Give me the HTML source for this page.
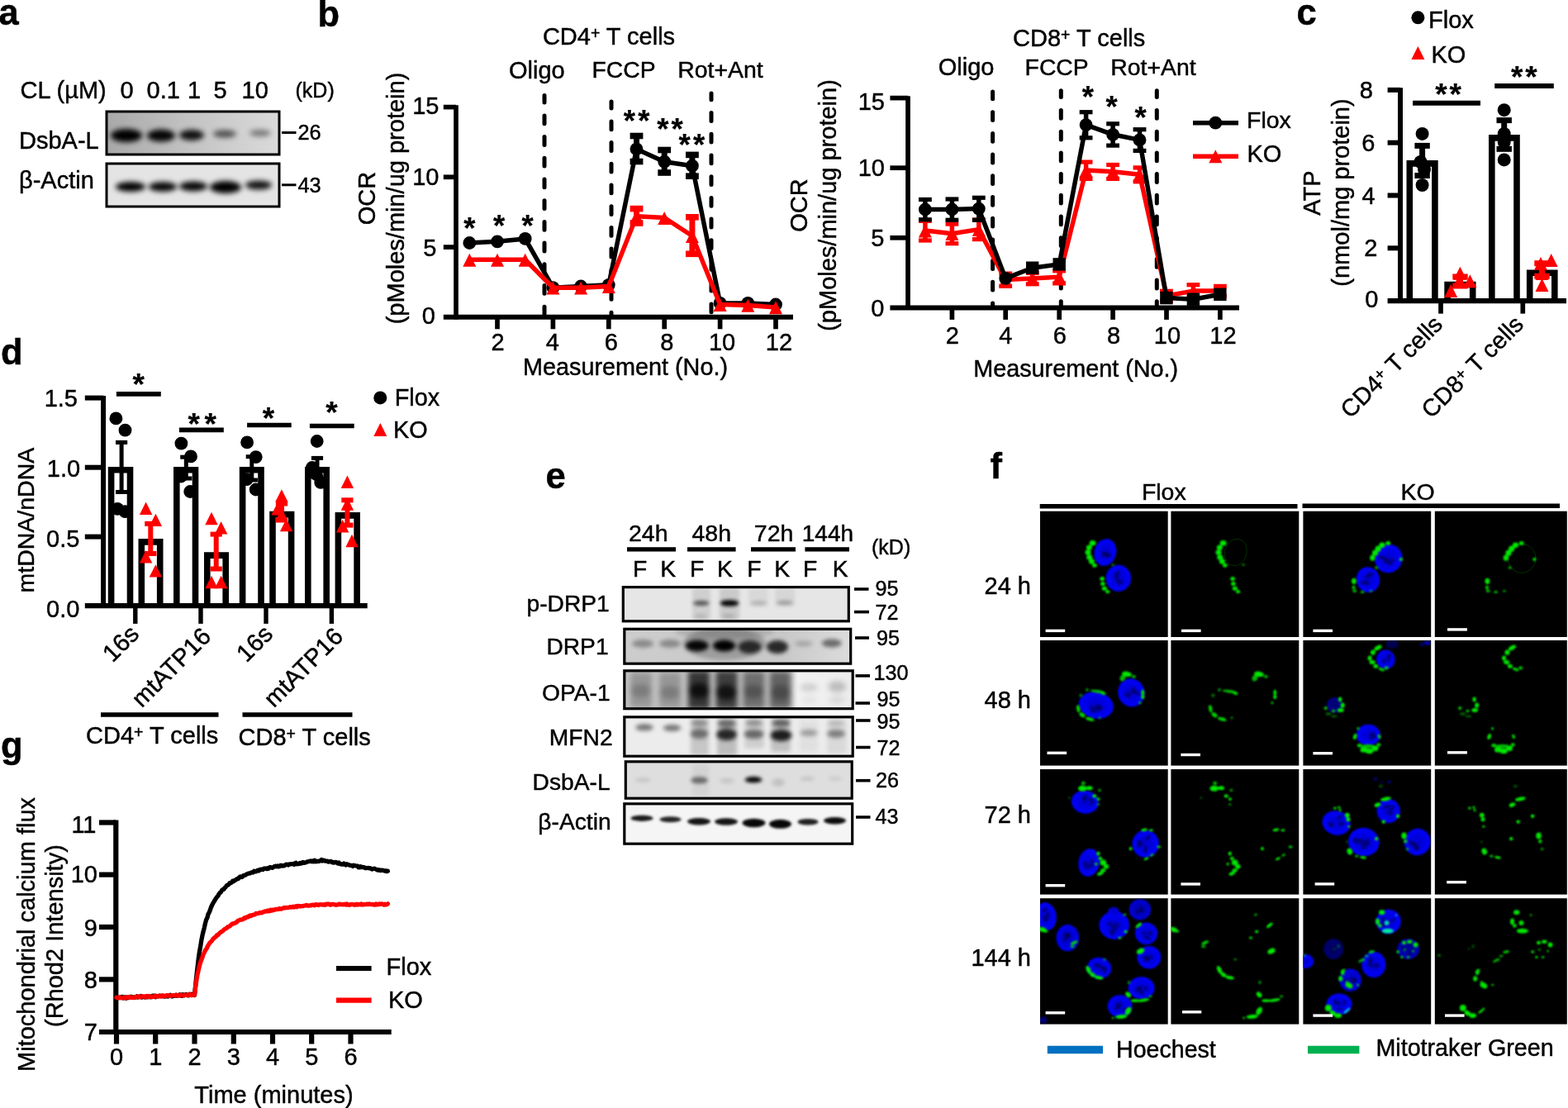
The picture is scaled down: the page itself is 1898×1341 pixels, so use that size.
<!DOCTYPE html>
<html lang="en"><head><meta charset="utf-8"><title>Figure</title>
<style>
html,body{margin:0;padding:0;background:#fff;}
body{width:1898px;height:1341px;overflow:hidden;}
svg{display:block;}
text{font-family:"Liberation Sans",sans-serif;fill:#000;stroke:#000;stroke-width:0.45px;}
</style></head><body>
<svg width="1898" height="1341" viewBox="0 0 1898 1341">
<defs><filter id="b1" x="-50%" y="-50%" width="200%" height="200%"><feGaussianBlur stdDeviation="1"/></filter><filter id="b2" x="-50%" y="-50%" width="200%" height="200%"><feGaussianBlur stdDeviation="2"/></filter><filter id="b3" x="-50%" y="-50%" width="200%" height="200%"><feGaussianBlur stdDeviation="3"/></filter><filter id="b4" x="-50%" y="-50%" width="200%" height="200%"><feGaussianBlur stdDeviation="4"/></filter><filter id="g1" x="-50%" y="-50%" width="200%" height="200%"><feGaussianBlur stdDeviation="1.1"/></filter><filter id="bl1_8" x="-50%" y="-50%" width="200%" height="200%"><feGaussianBlur stdDeviation="1.8"/></filter><filter id="bl2" x="-50%" y="-50%" width="200%" height="200%"><feGaussianBlur stdDeviation="2"/></filter><filter id="bl2_5" x="-50%" y="-50%" width="200%" height="200%"><feGaussianBlur stdDeviation="2.5"/></filter><filter id="bl3" x="-50%" y="-50%" width="200%" height="200%"><feGaussianBlur stdDeviation="3"/></filter><radialGradient id="bg"><stop offset="0" stop-color="#0000c8"/><stop offset="0.6" stop-color="#0000e6"/><stop offset="1" stop-color="#0000ff"/></radialGradient></defs>
<text x="-1.5" y="30.3" font-size="43.5" font-weight="bold">a</text>
<text x="24.5" y="119.0" font-size="29">CL (µM)</text>
<text x="145.4" y="119.0" font-size="29">0</text>
<text x="177.5" y="119.0" font-size="29">0.1</text>
<text x="227.1" y="119.0" font-size="29">1</text>
<text x="258.4" y="119.0" font-size="29">5</text>
<text x="292.5" y="119.0" font-size="29">10</text>
<text x="357.5" y="118.0" font-size="25">(kD)</text>
<text x="23.0" y="180.0" font-size="29">DsbA-L</text>
<text x="23.0" y="227.5" font-size="29">β-Actin</text>
<linearGradient id="ga1" x1="0" x2="1" y1="0" y2="0"><stop offset="0" stop-color="#a8a8a8"/><stop offset="0.5" stop-color="#c4c4c4"/><stop offset="1" stop-color="#dadada"/></linearGradient>
<g>
<clipPath id="c129_135"><rect x="129" y="135" width="209" height="52"/></clipPath>
<rect x="129.0" y="135.0" width="209.0" height="52.0" fill="url(#ga1)"/>
<g clip-path="url(#c129_135)" filter="url(#b3)">
<ellipse cx="153.0" cy="164.0" rx="19.0" ry="8.0" fill="#000" opacity="1.0"/>
<ellipse cx="195.0" cy="164.0" rx="17.0" ry="7.5" fill="#000" opacity="0.97"/>
<ellipse cx="232.0" cy="163.5" rx="15.0" ry="6.5" fill="#000" opacity="0.92"/>
<ellipse cx="272.0" cy="162.0" rx="14.0" ry="4.5" fill="#000" opacity="0.62"/>
<ellipse cx="315.0" cy="161.0" rx="13.0" ry="4.0" fill="#000" opacity="0.45"/>
</g>
<rect x="129.0" y="135.0" width="209.0" height="52.0" fill="none" stroke="#000" stroke-width="3"/>
</g>
<g>
<clipPath id="c129_198"><rect x="129" y="198" width="209" height="52"/></clipPath>
<rect x="129.0" y="198.0" width="209.0" height="52.0" fill="#e4e4e4"/>
<g clip-path="url(#c129_198)" filter="url(#b3)">
<ellipse cx="158.0" cy="226.0" rx="18.0" ry="6.0" fill="#000" opacity="1.0"/>
<ellipse cx="197.0" cy="226.0" rx="17.0" ry="6.0" fill="#000" opacity="0.97"/>
<ellipse cx="234.0" cy="225.5" rx="17.0" ry="6.0" fill="#000" opacity="0.97"/>
<ellipse cx="273.0" cy="226.5" rx="19.0" ry="7.5" fill="#000" opacity="1.0"/>
<ellipse cx="313.0" cy="224.0" rx="16.0" ry="5.5" fill="#000" opacity="0.92"/>
</g>
<rect x="129.0" y="198.0" width="209.0" height="52.0" fill="none" stroke="#000" stroke-width="3"/>
</g>
<line x1="341.0" y1="160.5" x2="358.5" y2="160.5" stroke="#000" stroke-width="3"/>
<text x="360.5" y="169.0" font-size="25.3">26</text>
<line x1="341.0" y1="223.8" x2="358.5" y2="223.8" stroke="#000" stroke-width="3"/>
<text x="360.5" y="232.5" font-size="25.3">43</text>
<text x="384.5" y="31.5" font-size="43.5" font-weight="bold">b</text>
<text x="737.0" y="54.0" font-size="29" text-anchor="middle">CD4<tspan dy="-7" font-size="19.5">+</tspan><tspan dy="7"> </tspan>T cells</text>
<text x="616.0" y="95.0" font-size="29">Oligo</text>
<text x="716.5" y="94.0" font-size="28.3">FCCP</text>
<text x="820.3" y="94.0" font-size="28.4">Rot+Ant</text>
<line x1="659.0" y1="115.5" x2="659.0" y2="380.8" stroke="#000" stroke-width="5" stroke-dasharray="9.8 15.9" stroke-dashoffset="1.3" stroke-linecap="round"/>
<line x1="740.0" y1="123.1" x2="740.0" y2="380.8" stroke="#000" stroke-width="5" stroke-dasharray="9.8 15.9" stroke-dashoffset="1.9" stroke-linecap="round"/>
<line x1="861.0" y1="113.0" x2="861.0" y2="380.8" stroke="#000" stroke-width="5" stroke-dasharray="9.8 15.9" stroke-dashoffset="2.1" stroke-linecap="round"/>
<line x1="770.5" y1="161.7" x2="770.5" y2="198.3" stroke="#000" stroke-width="7"/>
<rect x="762.6" y="160.7" width="15.8" height="7.6" fill="#000"/>
<rect x="762.6" y="191.7" width="15.8" height="7.6" fill="#000"/>
<line x1="804.2" y1="178.7" x2="804.2" y2="211.8" stroke="#000" stroke-width="7"/>
<rect x="796.3" y="177.7" width="15.8" height="7.6" fill="#000"/>
<rect x="796.3" y="205.2" width="15.8" height="7.6" fill="#000"/>
<line x1="837.9" y1="184.6" x2="837.9" y2="216.0" stroke="#000" stroke-width="7"/>
<rect x="830.0" y="183.6" width="15.8" height="7.6" fill="#000"/>
<rect x="830.0" y="209.4" width="15.8" height="7.6" fill="#000"/>
<polyline points="568.3,294.0 602.0,292.3 635.7,288.9 669.4,348.2 703.1,346.5 736.8,344.8 770.5,180.4 804.2,195.7 837.9,200.7 871.6,366.9 905.3,366.9 939.0,368.5" fill="none" stroke="#000" stroke-width="5.5" stroke-linejoin="round"/>
<circle cx="568.3" cy="294.0" r="7.9" fill="#000"/>
<circle cx="602.0" cy="292.3" r="7.9" fill="#000"/>
<circle cx="635.7" cy="288.9" r="7.9" fill="#000"/>
<circle cx="669.4" cy="348.2" r="7.9" fill="#000"/>
<circle cx="703.1" cy="346.5" r="7.9" fill="#000"/>
<circle cx="736.8" cy="344.8" r="7.9" fill="#000"/>
<circle cx="770.5" cy="180.4" r="7.9" fill="#000"/>
<circle cx="804.2" cy="195.7" r="7.9" fill="#000"/>
<circle cx="837.9" cy="200.7" r="7.9" fill="#000"/>
<circle cx="871.6" cy="366.9" r="7.9" fill="#000"/>
<circle cx="905.3" cy="366.9" r="7.9" fill="#000"/>
<circle cx="939.0" cy="368.5" r="7.9" fill="#000"/>
<line x1="770.5" y1="249.8" x2="770.5" y2="272.8" stroke="#f00" stroke-width="7"/>
<rect x="762.6" y="248.8" width="15.8" height="7.6" fill="#f00"/>
<rect x="762.6" y="266.2" width="15.8" height="7.6" fill="#f00"/>
<line x1="837.9" y1="260.0" x2="837.9" y2="310.1" stroke="#f00" stroke-width="7"/>
<rect x="830.0" y="259.0" width="15.8" height="7.6" fill="#f00"/>
<rect x="830.0" y="303.5" width="15.8" height="7.6" fill="#f00"/>
<polyline points="568.3,314.3 602.0,314.3 635.7,314.3 669.4,348.2 703.1,348.2 736.8,346.5 770.5,261.8 804.2,263.5 837.9,285.5 871.6,368.5 905.3,369.4 939.0,371.9" fill="none" stroke="#f00" stroke-width="5.5" stroke-linejoin="round"/>
<polygon points="568.3,306.7 560.3,322.7 576.3,322.7" fill="#f00"/>
<polygon points="602.0,306.7 594.0,322.7 610.0,322.7" fill="#f00"/>
<polygon points="635.7,306.7 627.7,322.7 643.7,322.7" fill="#f00"/>
<polygon points="669.4,340.6 661.4,356.6 677.4,356.6" fill="#f00"/>
<polygon points="703.1,340.6 695.1,356.6 711.1,356.6" fill="#f00"/>
<polygon points="736.8,338.9 728.8,354.9 744.8,354.9" fill="#f00"/>
<polygon points="770.5,254.2 762.5,270.2 778.5,270.2" fill="#f00"/>
<polygon points="804.2,255.9 796.2,271.9 812.2,271.9" fill="#f00"/>
<polygon points="837.9,277.9 829.9,293.9 845.9,293.9" fill="#f00"/>
<polygon points="871.6,360.9 863.6,376.9 879.6,376.9" fill="#f00"/>
<polygon points="905.3,361.8 897.3,377.8 913.3,377.8" fill="#f00"/>
<polygon points="939.0,364.3 931.0,380.3 947.0,380.3" fill="#f00"/>
<line x1="552.0" y1="127.2" x2="552.0" y2="386.5" stroke="#000" stroke-width="5.7"/>
<line x1="536.8" y1="383.8" x2="960.0" y2="383.8" stroke="#000" stroke-width="6"/>
<text x="527.0" y="392.3" font-size="29" text-anchor="end">0</text>
<line x1="536.8" y1="299.1" x2="552.0" y2="299.1" stroke="#000" stroke-width="5.7"/>
<text x="528.5" y="309.9" font-size="29" text-anchor="end">5</text>
<line x1="536.8" y1="214.3" x2="552.0" y2="214.3" stroke="#000" stroke-width="5.7"/>
<text x="531.5" y="224.1" font-size="29" text-anchor="end">10</text>
<line x1="536.8" y1="129.6" x2="552.0" y2="129.6" stroke="#000" stroke-width="5.7"/>
<text x="531.5" y="138.4" font-size="29" text-anchor="end">15</text>
<line x1="602.0" y1="383.8" x2="602.0" y2="398.3" stroke="#000" stroke-width="5.7"/>
<text x="602.5" y="424.0" font-size="29" text-anchor="middle">2</text>
<line x1="669.4" y1="383.8" x2="669.4" y2="398.3" stroke="#000" stroke-width="5.7"/>
<text x="668.9" y="424.0" font-size="29" text-anchor="middle">4</text>
<line x1="736.8" y1="383.8" x2="736.8" y2="398.3" stroke="#000" stroke-width="5.7"/>
<text x="739.8" y="424.0" font-size="29" text-anchor="middle">6</text>
<line x1="804.2" y1="383.8" x2="804.2" y2="398.3" stroke="#000" stroke-width="5.7"/>
<text x="807.2" y="424.0" font-size="29" text-anchor="middle">8</text>
<line x1="871.6" y1="383.8" x2="871.6" y2="398.3" stroke="#000" stroke-width="5.7"/>
<text x="874.1" y="424.0" font-size="29" text-anchor="middle">10</text>
<line x1="939.0" y1="383.8" x2="939.0" y2="398.3" stroke="#000" stroke-width="5.7"/>
<text x="943.0" y="424.0" font-size="29" text-anchor="middle">12</text>
<text x="757.0" y="454.0" font-size="28.8" text-anchor="middle">Measurement (No.)</text>
<text font-size="29" text-anchor="middle" transform="translate(454.2 240.0) rotate(-90)">OCR</text>
<text font-size="29" text-anchor="middle" transform="translate(488.5 240.0) rotate(-90)">(pMoles/min/ug protein)</text>
<text x="561.3" y="289.3" font-size="36.5" font-weight="bold" style="stroke-width:0.2px">*</text>
<text x="597.1" y="285.6" font-size="36.5" font-weight="bold" style="stroke-width:0.2px">*</text>
<text x="631.6" y="285.6" font-size="36.5" font-weight="bold" style="stroke-width:0.2px">*</text>
<text x="754.8" y="159.0" font-size="36.5" font-weight="bold" letter-spacing="3.2" style="stroke-width:0.2px">**</text>
<text x="795.2" y="169.0" font-size="36.5" font-weight="bold" letter-spacing="3.2" style="stroke-width:0.2px">**</text>
<text x="821.6" y="188.3" font-size="36.5" font-weight="bold" letter-spacing="3.2" style="stroke-width:0.2px">**</text>
<text x="1306.2" y="56.2" font-size="29" text-anchor="middle">CD8<tspan dy="-7" font-size="19.5">+</tspan><tspan dy="7"> </tspan>T cells</text>
<text x="1135.7" y="90.7" font-size="29">Oligo</text>
<text x="1240.6" y="90.7" font-size="28.3">FCCP</text>
<text x="1344.3" y="90.7" font-size="28.4">Rot+Ant</text>
<line x1="1201.6" y1="111.0" x2="1201.6" y2="369.4" stroke="#000" stroke-width="5" stroke-dasharray="9.8 15.9" stroke-dashoffset="1" stroke-linecap="round"/>
<line x1="1284.3" y1="109.8" x2="1284.3" y2="369.4" stroke="#000" stroke-width="5" stroke-dasharray="9.8 15.9" stroke-dashoffset="2" stroke-linecap="round"/>
<line x1="1400.3" y1="109.8" x2="1400.3" y2="369.4" stroke="#000" stroke-width="5" stroke-dasharray="9.8 15.9" stroke-dashoffset="2" stroke-linecap="round"/>
<line x1="1119.9" y1="265.8" x2="1119.9" y2="292.6" stroke="#f00" stroke-width="5.5"/>
<rect x="1112.0" y="264.8" width="15.8" height="5.2" fill="#f00"/>
<rect x="1112.0" y="288.4" width="15.8" height="5.2" fill="#f00"/>
<line x1="1152.4" y1="269.5" x2="1152.4" y2="296.3" stroke="#f00" stroke-width="5.5"/>
<rect x="1144.5" y="268.5" width="15.8" height="5.2" fill="#f00"/>
<rect x="1144.5" y="292.1" width="15.8" height="5.2" fill="#f00"/>
<line x1="1184.8" y1="264.4" x2="1184.8" y2="291.2" stroke="#f00" stroke-width="5.5"/>
<rect x="1176.9" y="263.4" width="15.8" height="5.2" fill="#f00"/>
<rect x="1176.9" y="287.0" width="15.8" height="5.2" fill="#f00"/>
<line x1="1217.2" y1="329.5" x2="1217.2" y2="347.9" stroke="#f00" stroke-width="5.5"/>
<rect x="1209.3" y="328.5" width="15.8" height="5.2" fill="#f00"/>
<rect x="1209.3" y="343.7" width="15.8" height="5.2" fill="#f00"/>
<line x1="1249.7" y1="328.7" x2="1249.7" y2="345.4" stroke="#f00" stroke-width="5.5"/>
<rect x="1241.8" y="327.7" width="15.8" height="5.2" fill="#f00"/>
<rect x="1241.8" y="341.2" width="15.8" height="5.2" fill="#f00"/>
<line x1="1282.2" y1="326.2" x2="1282.2" y2="344.5" stroke="#f00" stroke-width="5.5"/>
<rect x="1274.2" y="325.2" width="15.8" height="5.2" fill="#f00"/>
<rect x="1274.2" y="340.3" width="15.8" height="5.2" fill="#f00"/>
<line x1="1314.6" y1="194.5" x2="1314.6" y2="218.0" stroke="#f00" stroke-width="5.5"/>
<rect x="1306.7" y="193.5" width="15.8" height="5.2" fill="#f00"/>
<rect x="1306.7" y="213.8" width="15.8" height="5.2" fill="#f00"/>
<line x1="1347.1" y1="197.9" x2="1347.1" y2="218.0" stroke="#f00" stroke-width="5.5"/>
<rect x="1339.2" y="196.9" width="15.8" height="5.2" fill="#f00"/>
<rect x="1339.2" y="213.8" width="15.8" height="5.2" fill="#f00"/>
<line x1="1379.5" y1="201.3" x2="1379.5" y2="221.4" stroke="#f00" stroke-width="5.5"/>
<rect x="1371.6" y="200.3" width="15.8" height="5.2" fill="#f00"/>
<rect x="1371.6" y="217.2" width="15.8" height="5.2" fill="#f00"/>
<line x1="1412.0" y1="350.7" x2="1412.0" y2="365.7" stroke="#f00" stroke-width="5.5"/>
<rect x="1404.0" y="349.7" width="15.8" height="5.2" fill="#f00"/>
<rect x="1404.0" y="361.5" width="15.8" height="5.2" fill="#f00"/>
<line x1="1444.4" y1="343.1" x2="1444.4" y2="361.5" stroke="#f00" stroke-width="5.5"/>
<rect x="1436.5" y="342.1" width="15.8" height="5.2" fill="#f00"/>
<rect x="1436.5" y="357.3" width="15.8" height="5.2" fill="#f00"/>
<line x1="1476.9" y1="344.8" x2="1476.9" y2="359.8" stroke="#f00" stroke-width="5.5"/>
<rect x="1469.0" y="343.8" width="15.8" height="5.2" fill="#f00"/>
<rect x="1469.0" y="355.6" width="15.8" height="5.2" fill="#f00"/>
<polyline points="1119.9,279.0 1152.4,282.7 1184.8,277.6 1217.2,338.6 1249.7,336.9 1282.2,335.2 1314.6,206.1 1347.1,207.8 1379.5,211.2 1412.0,358.0 1444.4,352.1 1476.9,352.1" fill="none" stroke="#f00" stroke-width="5.5" stroke-linejoin="round"/>
<polygon points="1119.9,271.4 1111.9,287.4 1127.9,287.4" fill="#f00"/>
<polygon points="1152.4,275.1 1144.4,291.1 1160.4,291.1" fill="#f00"/>
<polygon points="1184.8,270.0 1176.8,286.0 1192.8,286.0" fill="#f00"/>
<polygon points="1217.2,331.0 1209.2,347.0 1225.2,347.0" fill="#f00"/>
<polygon points="1249.7,329.3 1241.7,345.3 1257.7,345.3" fill="#f00"/>
<polygon points="1282.2,327.6 1274.2,343.6 1290.2,343.6" fill="#f00"/>
<polygon points="1314.6,198.5 1306.6,214.5 1322.6,214.5" fill="#f00"/>
<polygon points="1347.1,200.2 1339.1,216.2 1355.1,216.2" fill="#f00"/>
<polygon points="1379.5,203.6 1371.5,219.6 1387.5,219.6" fill="#f00"/>
<polygon points="1412.0,350.4 1404.0,366.4 1420.0,366.4" fill="#f00"/>
<polygon points="1444.4,344.5 1436.4,360.5 1452.4,360.5" fill="#f00"/>
<polygon points="1476.9,344.5 1468.9,360.5 1484.9,360.5" fill="#f00"/>
<line x1="1119.9" y1="239.9" x2="1119.9" y2="267.4" stroke="#000" stroke-width="5.5"/>
<rect x="1112.0" y="238.9" width="15.8" height="5.2" fill="#000"/>
<rect x="1112.0" y="263.2" width="15.8" height="5.2" fill="#000"/>
<line x1="1152.4" y1="239.4" x2="1152.4" y2="267.9" stroke="#000" stroke-width="5.5"/>
<rect x="1144.5" y="238.4" width="15.8" height="5.2" fill="#000"/>
<rect x="1144.5" y="263.7" width="15.8" height="5.2" fill="#000"/>
<line x1="1184.8" y1="237.7" x2="1184.8" y2="267.9" stroke="#000" stroke-width="5.5"/>
<rect x="1176.9" y="236.7" width="15.8" height="5.2" fill="#000"/>
<rect x="1176.9" y="263.7" width="15.8" height="5.2" fill="#000"/>
<line x1="1314.6" y1="134.1" x2="1314.6" y2="168.4" stroke="#000" stroke-width="5.5"/>
<rect x="1306.7" y="133.1" width="15.8" height="5.2" fill="#000"/>
<rect x="1306.7" y="164.2" width="15.8" height="5.2" fill="#000"/>
<line x1="1347.1" y1="148.2" x2="1347.1" y2="177.7" stroke="#000" stroke-width="5.5"/>
<rect x="1339.2" y="147.2" width="15.8" height="5.2" fill="#000"/>
<rect x="1339.2" y="173.5" width="15.8" height="5.2" fill="#000"/>
<line x1="1379.5" y1="155.1" x2="1379.5" y2="184.0" stroke="#000" stroke-width="5.5"/>
<rect x="1371.6" y="154.1" width="15.8" height="5.2" fill="#000"/>
<rect x="1371.6" y="179.8" width="15.8" height="5.2" fill="#000"/>
<polyline points="1119.9,253.5 1152.4,253.5 1184.8,252.6 1217.2,336.9 1249.7,324.2 1282.2,319.9 1314.6,151.1 1347.1,162.8 1379.5,169.4 1412.0,360.6 1444.4,362.2 1476.9,356.3" fill="none" stroke="#000" stroke-width="5.5" stroke-linejoin="round"/>
<circle cx="1119.9" cy="253.5" r="7.9" fill="#000"/>
<circle cx="1152.4" cy="253.5" r="7.9" fill="#000"/>
<circle cx="1184.8" cy="252.6" r="7.9" fill="#000"/>
<circle cx="1217.2" cy="336.9" r="7.9" fill="#000"/>
<rect x="1242.0" y="316.5" width="15.4" height="15.4" fill="#000"/>
<rect x="1274.5" y="312.2" width="15.4" height="15.4" fill="#000"/>
<circle cx="1314.6" cy="151.1" r="7.9" fill="#000"/>
<circle cx="1347.1" cy="162.8" r="7.9" fill="#000"/>
<circle cx="1379.5" cy="169.4" r="7.9" fill="#000"/>
<rect x="1404.2" y="352.9" width="15.4" height="15.4" fill="#000"/>
<rect x="1436.7" y="354.5" width="15.4" height="15.4" fill="#000"/>
<rect x="1469.2" y="348.6" width="15.4" height="15.4" fill="#000"/>
<line x1="1099.0" y1="116.2" x2="1099.0" y2="375.1" stroke="#000" stroke-width="5.7"/>
<line x1="1077.4" y1="372.4" x2="1500.0" y2="372.4" stroke="#000" stroke-width="6"/>
<text x="1070.5" y="382.7" font-size="29" text-anchor="end">0</text>
<line x1="1077.4" y1="287.8" x2="1099.0" y2="287.8" stroke="#000" stroke-width="5.7"/>
<text x="1070.5" y="298.1" font-size="29" text-anchor="end">5</text>
<line x1="1077.4" y1="203.2" x2="1099.0" y2="203.2" stroke="#000" stroke-width="5.7"/>
<text x="1071.0" y="212.7" font-size="29" text-anchor="end">10</text>
<line x1="1077.4" y1="118.6" x2="1099.0" y2="118.6" stroke="#000" stroke-width="5.7"/>
<text x="1071.0" y="132.9" font-size="29" text-anchor="end">15</text>
<line x1="1152.4" y1="372.4" x2="1152.4" y2="386.9" stroke="#000" stroke-width="5.7"/>
<text x="1152.9" y="416.0" font-size="29" text-anchor="middle">2</text>
<line x1="1217.2" y1="372.4" x2="1217.2" y2="386.9" stroke="#000" stroke-width="5.7"/>
<text x="1217.2" y="416.0" font-size="29" text-anchor="middle">4</text>
<line x1="1282.2" y1="372.4" x2="1282.2" y2="386.9" stroke="#000" stroke-width="5.7"/>
<text x="1282.7" y="416.0" font-size="29" text-anchor="middle">6</text>
<line x1="1347.1" y1="372.4" x2="1347.1" y2="386.9" stroke="#000" stroke-width="5.7"/>
<text x="1348.1" y="416.0" font-size="29" text-anchor="middle">8</text>
<line x1="1412.0" y1="372.4" x2="1412.0" y2="386.9" stroke="#000" stroke-width="5.7"/>
<text x="1413.0" y="416.0" font-size="29" text-anchor="middle">10</text>
<line x1="1476.9" y1="372.4" x2="1476.9" y2="386.9" stroke="#000" stroke-width="5.7"/>
<text x="1480.4" y="416.0" font-size="29" text-anchor="middle">12</text>
<text x="1302.2" y="455.5" font-size="28.8" text-anchor="middle">Measurement (No.)</text>
<text font-size="29" text-anchor="middle" transform="translate(977.0 248.5) rotate(-90)">OCR</text>
<text font-size="29" text-anchor="middle" transform="translate(1011.5 248.5) rotate(-90)">(pMoles/min/ug protein)</text>
<text x="1309.7" y="129.6" font-size="36.5" font-weight="bold" style="stroke-width:0.2px">*</text>
<text x="1338.4" y="142.3" font-size="36.5" font-weight="bold" style="stroke-width:0.2px">*</text>
<text x="1373.4" y="155.3" font-size="36.5" font-weight="bold" style="stroke-width:0.2px">*</text>
<line x1="1444.0" y1="148.7" x2="1499.0" y2="148.7" stroke="#000" stroke-width="5.5"/>
<circle cx="1471.3" cy="148.7" r="7.9" fill="#000"/>
<text x="1509.0" y="155.0" font-size="28.5">Flox</text>
<line x1="1444.0" y1="189.2" x2="1499.0" y2="189.2" stroke="#f00" stroke-width="5.5"/>
<polygon points="1471.3,181.2 1463.3,197.2 1479.3,197.2" fill="#f00"/>
<text x="1509.5" y="196.3" font-size="29">KO</text>
<text x="1569.5" y="29.5" font-size="43.5" font-weight="bold">c</text>
<circle cx="1716.4" cy="21.3" r="8" fill="#000"/>
<text x="1729.0" y="34.0" font-size="29">Flox</text>
<polygon points="1716.4,56.0 1708.4,72.0 1724.4,72.0" fill="#f00"/>
<text x="1732.5" y="76.0" font-size="29">KO</text>
<path d="M1706.3,364.1 V197.9 H1736.9 V364.1" fill="#fff" stroke="#000" stroke-width="7.6" stroke-linejoin="miter"/>
<path d="M1752.1,364.1 V344.5 H1782.7 V364.1" fill="#fff" stroke="#000" stroke-width="7.6" stroke-linejoin="miter"/>
<path d="M1805.8,364.1 V166.9 H1836.0 V364.1" fill="#fff" stroke="#000" stroke-width="7.6" stroke-linejoin="miter"/>
<path d="M1851.7,364.1 V330.2 H1881.8 V364.1" fill="#fff" stroke="#000" stroke-width="7.6" stroke-linejoin="miter"/>
<line x1="1721.6" y1="176.4" x2="1721.6" y2="212.5" stroke="#000" stroke-width="7"/>
<line x1="1712.4" y1="176.4" x2="1730.8" y2="176.4" stroke="#000" stroke-width="7"/>
<line x1="1712.4" y1="212.5" x2="1730.8" y2="212.5" stroke="#000" stroke-width="7"/>
<circle cx="1721.6" cy="161.9" r="8" fill="#000"/>
<circle cx="1719.5" cy="196.0" r="8" fill="#000"/>
<circle cx="1724.0" cy="205.0" r="8" fill="#000"/>
<circle cx="1721.6" cy="224.0" r="8" fill="#000"/>
<line x1="1767.5" y1="335.0" x2="1767.5" y2="346.0" stroke="#f00" stroke-width="7"/>
<line x1="1758.3" y1="335.0" x2="1776.7" y2="335.0" stroke="#f00" stroke-width="7"/>
<line x1="1758.3" y1="346.0" x2="1776.7" y2="346.0" stroke="#f00" stroke-width="7"/>
<polygon points="1767.4,322.7 1759.4,338.7 1775.4,338.7" fill="#f00"/>
<polygon points="1779.4,332.2 1771.4,348.2 1787.4,348.2" fill="#f00"/>
<polygon points="1756.2,344.1 1748.2,360.1 1764.2,360.1" fill="#f00"/>
<polygon points="1766.0,333.0 1758.0,349.0 1774.0,349.0" fill="#f00"/>
<line x1="1820.7" y1="145.6" x2="1820.7" y2="180.3" stroke="#000" stroke-width="7"/>
<line x1="1811.5" y1="145.6" x2="1829.9" y2="145.6" stroke="#000" stroke-width="7"/>
<line x1="1811.5" y1="180.3" x2="1829.9" y2="180.3" stroke="#000" stroke-width="7"/>
<circle cx="1820.7" cy="133.2" r="8" fill="#000"/>
<circle cx="1820.7" cy="162.0" r="8" fill="#000"/>
<circle cx="1820.7" cy="172.0" r="8" fill="#000"/>
<circle cx="1820.7" cy="193.4" r="8" fill="#000"/>
<line x1="1866.5" y1="318.7" x2="1866.5" y2="334.2" stroke="#f00" stroke-width="7"/>
<line x1="1857.3" y1="318.7" x2="1875.7" y2="318.7" stroke="#f00" stroke-width="7"/>
<line x1="1857.3" y1="334.2" x2="1875.7" y2="334.2" stroke="#f00" stroke-width="7"/>
<polygon points="1877.7,307.1 1869.7,323.1 1885.7,323.1" fill="#f00"/>
<polygon points="1865.0,311.0 1857.0,327.0 1873.0,327.0" fill="#f00"/>
<polygon points="1866.5,323.0 1858.5,339.0 1874.5,339.0" fill="#f00"/>
<polygon points="1866.5,337.0 1858.5,353.0 1874.5,353.0" fill="#f00"/>
<line x1="1695.0" y1="106.3" x2="1695.0" y2="366.8" stroke="#000" stroke-width="6"/>
<line x1="1679.6" y1="364.1" x2="1896.0" y2="364.1" stroke="#000" stroke-width="6.2"/>
<text x="1668.5" y="371.9" font-size="29" text-anchor="end">0</text>
<line x1="1679.6" y1="300.3" x2="1695.0" y2="300.3" stroke="#000" stroke-width="6"/>
<text x="1667.3" y="310.0" font-size="29" text-anchor="end">2</text>
<line x1="1679.6" y1="236.5" x2="1695.0" y2="236.5" stroke="#000" stroke-width="6"/>
<text x="1664.7" y="246.8" font-size="29" text-anchor="end">4</text>
<line x1="1679.6" y1="172.7" x2="1695.0" y2="172.7" stroke="#000" stroke-width="6"/>
<text x="1664.5" y="183.0" font-size="29" text-anchor="end">6</text>
<line x1="1679.6" y1="108.9" x2="1695.0" y2="108.9" stroke="#000" stroke-width="6"/>
<text x="1662.0" y="119.2" font-size="29" text-anchor="end">8</text>
<line x1="1744.0" y1="364.1" x2="1744.0" y2="379.6" stroke="#000" stroke-width="5.7"/>
<line x1="1843.3" y1="364.1" x2="1843.3" y2="379.6" stroke="#000" stroke-width="5.7"/>
<line x1="1710.1" y1="124.8" x2="1792.0" y2="124.8" stroke="#000" stroke-width="6"/>
<text x="1737.2" y="126.5" font-size="37" font-weight="bold" letter-spacing="3" style="stroke-width:0.2px">**</text>
<line x1="1809.2" y1="103.9" x2="1880.8" y2="103.9" stroke="#000" stroke-width="6"/>
<text x="1828.9" y="105.8" font-size="37" font-weight="bold" letter-spacing="3" style="stroke-width:0.2px">**</text>
<text font-size="29" text-anchor="middle" transform="translate(1597.8 233.6) rotate(-90)">ATP</text>
<text font-size="29" text-anchor="middle" transform="translate(1632.5 233.0) rotate(-90)">(nmol/mg protein)</text>
<text font-size="29" text-anchor="end" transform="translate(1747.8 394.2) rotate(-45)">CD4<tspan dy="-7" font-size="19.5">+</tspan><tspan dy="7"> </tspan>T cells</text>
<text font-size="29" text-anchor="end" transform="translate(1845.8 394.2) rotate(-45)">CD8<tspan dy="-7" font-size="19.5">+</tspan><tspan dy="7"> </tspan>T cells</text>
<text x="1.0" y="441.0" font-size="43.5" font-weight="bold">d</text>
<path d="M134.6,733.1 V568.8 H157.5 V733.1" fill="#fff" stroke="#000" stroke-width="7.6" stroke-linejoin="miter"/>
<path d="M171.3,733.1 V655.9 H193.7 V733.1" fill="#fff" stroke="#000" stroke-width="7.6" stroke-linejoin="miter"/>
<path d="M213.8,733.1 V568.8 H236.5 V733.1" fill="#fff" stroke="#000" stroke-width="7.6" stroke-linejoin="miter"/>
<path d="M250.8,733.1 V672.1 H273.2 V733.1" fill="#fff" stroke="#000" stroke-width="7.6" stroke-linejoin="miter"/>
<path d="M293.6,733.1 V568.8 H316.0 V733.1" fill="#fff" stroke="#000" stroke-width="7.6" stroke-linejoin="miter"/>
<path d="M330.0,733.1 V622.6 H352.6 V733.1" fill="#fff" stroke="#000" stroke-width="7.6" stroke-linejoin="miter"/>
<path d="M372.8,733.1 V568.8 H395.2 V733.1" fill="#fff" stroke="#000" stroke-width="7.6" stroke-linejoin="miter"/>
<path d="M409.4,733.1 V623.9 H432.1 V733.1" fill="#fff" stroke="#000" stroke-width="7.6" stroke-linejoin="miter"/>
<line x1="147.1" y1="535.4" x2="147.1" y2="595.5" stroke="#000" stroke-width="5"/>
<line x1="140.0" y1="535.4" x2="154.2" y2="535.4" stroke="#000" stroke-width="5"/>
<line x1="140.0" y1="595.5" x2="154.2" y2="595.5" stroke="#000" stroke-width="5"/>
<circle cx="140.4" cy="506.4" r="7.9" fill="#000"/>
<circle cx="151.5" cy="520.7" r="7.9" fill="#000"/>
<circle cx="142.2" cy="615.9" r="7.9" fill="#000"/>
<circle cx="151.5" cy="619.1" r="7.9" fill="#000"/>
<line x1="182.3" y1="633.8" x2="182.3" y2="670.0" stroke="#f00" stroke-width="6"/>
<line x1="175.2" y1="633.8" x2="189.4" y2="633.8" stroke="#f00" stroke-width="6"/>
<line x1="175.2" y1="670.0" x2="189.4" y2="670.0" stroke="#f00" stroke-width="6"/>
<polygon points="176.6,607.5 168.9,622.9 184.3,622.9" fill="#f00"/>
<polygon points="188.4,621.7 180.7,637.1 196.1,637.1" fill="#f00"/>
<polygon points="176.6,666.0 168.9,681.4 184.3,681.4" fill="#f00"/>
<polygon points="188.4,683.2 180.7,698.6 196.1,698.6" fill="#f00"/>
<line x1="225.3" y1="553.2" x2="225.3" y2="579.0" stroke="#000" stroke-width="5"/>
<line x1="218.2" y1="553.2" x2="232.4" y2="553.2" stroke="#000" stroke-width="5"/>
<line x1="218.2" y1="579.0" x2="232.4" y2="579.0" stroke="#000" stroke-width="5"/>
<circle cx="219.4" cy="536.7" r="7.9" fill="#000"/>
<circle cx="231.0" cy="552.4" r="7.9" fill="#000"/>
<circle cx="219.2" cy="576.5" r="7.9" fill="#000"/>
<circle cx="230.2" cy="595.0" r="7.9" fill="#000"/>
<line x1="261.7" y1="646.6" x2="261.7" y2="688.5" stroke="#f00" stroke-width="6"/>
<line x1="254.6" y1="646.6" x2="268.8" y2="646.6" stroke="#f00" stroke-width="6"/>
<line x1="254.6" y1="688.5" x2="268.8" y2="688.5" stroke="#f00" stroke-width="6"/>
<polygon points="256.0,619.8 248.3,635.2 263.7,635.2" fill="#f00"/>
<polygon points="267.6,631.1 259.9,646.5 275.3,646.5" fill="#f00"/>
<polygon points="256.0,696.8 248.3,712.2 263.7,712.2" fill="#f00"/>
<polygon points="267.6,696.8 259.9,712.2 275.3,712.2" fill="#f00"/>
<line x1="304.8" y1="552.7" x2="304.8" y2="581.0" stroke="#000" stroke-width="5"/>
<line x1="297.7" y1="552.7" x2="311.9" y2="552.7" stroke="#000" stroke-width="5"/>
<line x1="297.7" y1="581.0" x2="311.9" y2="581.0" stroke="#000" stroke-width="5"/>
<circle cx="299.1" cy="535.4" r="7.9" fill="#000"/>
<circle cx="309.7" cy="553.2" r="7.9" fill="#000"/>
<circle cx="298.6" cy="580.2" r="7.9" fill="#000"/>
<circle cx="309.7" cy="592.5" r="7.9" fill="#000"/>
<line x1="341.0" y1="609.5" x2="341.0" y2="629.5" stroke="#f00" stroke-width="6"/>
<line x1="333.9" y1="609.5" x2="348.1" y2="609.5" stroke="#f00" stroke-width="6"/>
<line x1="333.9" y1="629.5" x2="348.1" y2="629.5" stroke="#f00" stroke-width="6"/>
<polygon points="340.9,592.2 333.2,607.6 348.6,607.6" fill="#f00"/>
<polygon points="336.0,608.2 328.3,623.6 343.7,623.6" fill="#f00"/>
<polygon points="341.0,615.3 333.3,630.7 348.7,630.7" fill="#f00"/>
<polygon points="346.6,627.9 338.9,643.3 354.3,643.3" fill="#f00"/>
<line x1="384.0" y1="554.4" x2="384.0" y2="577.0" stroke="#000" stroke-width="5"/>
<line x1="376.9" y1="554.4" x2="391.1" y2="554.4" stroke="#000" stroke-width="5"/>
<line x1="376.9" y1="577.0" x2="391.1" y2="577.0" stroke="#000" stroke-width="5"/>
<circle cx="383.7" cy="534.0" r="7.9" fill="#000"/>
<circle cx="377.8" cy="566.0" r="7.9" fill="#000"/>
<circle cx="382.7" cy="574.0" r="7.9" fill="#000"/>
<circle cx="388.2" cy="583.9" r="7.9" fill="#000"/>
<line x1="420.4" y1="605.3" x2="420.4" y2="635.6" stroke="#f00" stroke-width="6"/>
<line x1="413.3" y1="605.3" x2="427.5" y2="605.3" stroke="#f00" stroke-width="6"/>
<line x1="413.3" y1="635.6" x2="427.5" y2="635.6" stroke="#f00" stroke-width="6"/>
<polygon points="420.4,575.5 412.7,590.9 428.1,590.9" fill="#f00"/>
<polygon points="420.4,602.3 412.7,617.7 428.1,617.7" fill="#f00"/>
<polygon points="414.7,629.1 407.0,644.5 422.4,644.5" fill="#f00"/>
<polygon points="426.0,646.8 418.3,662.2 433.7,662.2" fill="#f00"/>
<line x1="125.1" y1="478.9" x2="125.1" y2="735.8" stroke="#000" stroke-width="6"/>
<line x1="102.8" y1="733.1" x2="444.7" y2="733.1" stroke="#000" stroke-width="6.2"/>
<text x="96.4" y="746.6" font-size="29" text-anchor="end">0.0</text>
<line x1="102.8" y1="649.6" x2="125.1" y2="649.6" stroke="#000" stroke-width="6"/>
<text x="96.4" y="662.3" font-size="29" text-anchor="end">0.5</text>
<line x1="102.8" y1="565.7" x2="125.1" y2="565.7" stroke="#000" stroke-width="6"/>
<text x="97.2" y="576.8" font-size="29" text-anchor="end">1.0</text>
<line x1="102.8" y1="481.6" x2="125.1" y2="481.6" stroke="#000" stroke-width="6"/>
<text x="94.0" y="491.9" font-size="29" text-anchor="end">1.5</text>
<line x1="163.8" y1="733.1" x2="163.8" y2="754.9" stroke="#000" stroke-width="5.4"/>
<line x1="243.0" y1="733.1" x2="243.0" y2="754.9" stroke="#000" stroke-width="5.4"/>
<line x1="322.0" y1="733.1" x2="322.0" y2="754.9" stroke="#000" stroke-width="5.4"/>
<line x1="401.4" y1="733.1" x2="401.4" y2="754.9" stroke="#000" stroke-width="5.4"/>
<line x1="140.9" y1="476.9" x2="194.8" y2="476.9" stroke="#000" stroke-width="5.6"/>
<text x="160.5" y="478.3" font-size="37" font-weight="bold" style="stroke-width:0.2px">*</text>
<line x1="216.9" y1="520.4" x2="270.8" y2="520.4" stroke="#000" stroke-width="5.6"/>
<text x="227.5" y="525.6" font-size="37" font-weight="bold" letter-spacing="5.5" style="stroke-width:0.2px">**</text>
<line x1="299.1" y1="514.5" x2="352.7" y2="514.5" stroke="#000" stroke-width="5.6"/>
<text x="317.7" y="518.7" font-size="37" font-weight="bold" style="stroke-width:0.2px">*</text>
<line x1="374.9" y1="515.5" x2="428.7" y2="515.5" stroke="#000" stroke-width="5.6"/>
<text x="394.2" y="512.0" font-size="37" font-weight="bold" style="stroke-width:0.2px">*</text>
<circle cx="460.3" cy="481.4" r="8" fill="#000"/>
<text x="477.7" y="491.0" font-size="28.8">Flox</text>
<polygon points="460.3,512.0 452.3,528.0 468.3,528.0" fill="#f00"/>
<text x="476.0" y="530.0" font-size="28.8">KO</text>
<text font-size="28.5" text-anchor="middle" transform="translate(41.0 629.6) rotate(-90)">mtDNA/nDNA</text>
<text font-size="29.5" text-anchor="end" transform="translate(170.0 769.0) rotate(-45)">16s</text>
<text font-size="29.5" text-anchor="end" transform="translate(257.0 772.0) rotate(-45)">mtATP16</text>
<text font-size="29.5" text-anchor="end" transform="translate(332.0 769.0) rotate(-45)">16s</text>
<text font-size="29.5" text-anchor="end" transform="translate(417.0 772.0) rotate(-45)">mtATP16</text>
<line x1="122.0" y1="865.0" x2="264.5" y2="865.0" stroke="#000" stroke-width="5.7"/>
<line x1="293.5" y1="865.0" x2="426.5" y2="865.0" stroke="#000" stroke-width="5.7"/>
<text x="104.1" y="900.0" font-size="29">CD4<tspan dy="-7" font-size="19.5">+</tspan><tspan dy="7"> </tspan>T cells</text>
<text x="288.6" y="901.8" font-size="29">CD8<tspan dy="-7" font-size="19.5">+</tspan><tspan dy="7"> </tspan>T cells</text>
<text x="1.0" y="917.0" font-size="43.5" font-weight="bold">g</text>
<line x1="140.3" y1="992.4" x2="140.3" y2="1252.0" stroke="#000" stroke-width="6.2"/>
<line x1="120.0" y1="1249.0" x2="473.7" y2="1249.0" stroke="#000" stroke-width="6.2"/>
<text x="118.0" y="1259.3" font-size="29" text-anchor="end">7</text>
<line x1="120.0" y1="1185.4" x2="140.0" y2="1185.4" stroke="#000" stroke-width="6.2"/>
<text x="118.0" y="1195.7" font-size="29" text-anchor="end">8</text>
<line x1="120.0" y1="1122.0" x2="140.0" y2="1122.0" stroke="#000" stroke-width="6.2"/>
<text x="118.0" y="1132.8" font-size="29" text-anchor="end">9</text>
<line x1="120.0" y1="1058.6" x2="140.0" y2="1058.6" stroke="#000" stroke-width="6.2"/>
<text x="118.0" y="1067.9" font-size="29" text-anchor="end">10</text>
<line x1="120.0" y1="995.5" x2="140.0" y2="995.5" stroke="#000" stroke-width="6.2"/>
<text x="116.5" y="1007.8" font-size="29" text-anchor="end">11</text>
<polyline points="141.0,1207.2 142.2,1207.7 143.4,1207.3 144.5,1207.7 145.7,1207.7 146.9,1206.6 148.1,1206.5 149.3,1207.9 150.4,1206.8 151.6,1206.8 152.8,1208.1 154.0,1207.1 155.2,1207.7 156.4,1207.0 157.5,1207.2 158.7,1206.3 159.9,1207.1 161.1,1207.5 162.3,1206.8 163.4,1207.2 164.6,1207.0 165.8,1205.9 167.0,1207.1 168.2,1206.7 169.4,1206.2 170.5,1205.6 171.7,1207.1 172.9,1206.3 174.1,1206.7 175.3,1207.0 176.4,1206.6 177.6,1206.9 178.8,1205.9 180.0,1206.6 181.2,1205.9 182.3,1206.8 183.5,1206.6 184.7,1205.2 185.9,1205.2 187.1,1205.3 188.3,1206.6 189.4,1205.6 190.6,1205.9 191.8,1205.3 193.0,1205.6 194.2,1205.3 195.3,1205.2 196.5,1205.6 197.7,1205.5 198.9,1206.1 200.1,1205.6 201.2,1206.0 202.4,1205.8 203.6,1206.0 204.8,1205.4 206.0,1204.4 207.1,1205.6 208.3,1205.8 209.5,1205.6 210.7,1205.0 211.9,1205.2 213.1,1204.2 214.2,1205.3 215.4,1204.8 216.6,1204.2 217.8,1203.8 219.0,1205.1 220.1,1205.3 221.3,1203.7 222.5,1204.9 223.7,1204.2 224.9,1203.6 226.0,1203.9 227.2,1204.7 228.4,1204.8 229.6,1203.3 230.8,1204.2 232.0,1203.2 233.1,1204.3 234.3,1203.6 235.5,1204.5 236.7,1192.2 237.9,1180.2 239.0,1171.0 240.2,1160.8 241.4,1152.2 242.6,1145.8 243.8,1138.2 244.9,1132.4 246.1,1127.4 247.3,1122.8 248.5,1117.4 249.7,1113.1 250.9,1110.8 252.0,1106.4 253.2,1104.4 254.4,1101.3 255.6,1097.7 256.8,1095.3 257.9,1093.1 259.1,1091.2 260.3,1089.1 261.5,1087.2 262.7,1085.5 263.8,1084.4 265.0,1082.1 266.2,1080.5 267.4,1079.7 268.6,1077.5 269.8,1076.4 270.9,1076.4 272.1,1074.5 273.3,1073.5 274.5,1071.5 275.7,1071.2 276.8,1070.6 278.0,1068.7 279.2,1068.9 280.4,1068.1 281.6,1066.3 282.7,1066.6 283.9,1065.6 285.1,1065.2 286.3,1064.0 287.5,1063.9 288.7,1063.4 289.8,1061.5 291.0,1060.9 292.2,1061.5 293.4,1061.4 294.6,1059.6 295.7,1059.5 296.9,1059.2 298.1,1058.2 299.3,1057.8 300.5,1057.3 301.6,1056.9 302.8,1056.9 304.0,1056.0 305.2,1055.7 306.4,1056.0 307.6,1054.3 308.7,1054.9 309.9,1054.8 311.1,1053.7 312.3,1053.2 313.5,1053.9 314.6,1052.6 315.8,1052.2 317.0,1052.3 318.2,1052.5 319.4,1051.1 320.5,1051.2 321.7,1051.0 322.9,1051.6 324.1,1050.7 325.3,1051.2 326.5,1049.7 327.6,1049.7 328.8,1050.1 330.0,1050.3 331.2,1049.3 332.4,1048.6 333.5,1048.2 334.7,1048.8 335.9,1048.0 337.1,1048.9 338.3,1048.7 339.4,1047.4 340.6,1047.3 341.8,1048.1 343.0,1047.6 344.2,1047.8 345.4,1046.8 346.5,1046.2 347.7,1046.3 348.9,1047.0 350.1,1045.9 351.3,1045.9 352.4,1045.9 353.6,1045.7 354.8,1045.5 356.0,1046.3 357.2,1044.7 358.3,1044.3 359.5,1045.8 360.7,1045.5 361.9,1045.5 363.1,1044.4 364.3,1045.1 365.4,1044.9 366.6,1043.5 367.8,1044.3 369.0,1044.2 370.2,1043.8 371.3,1043.3 372.5,1042.8 373.7,1042.7 374.9,1042.3 376.1,1041.9 377.3,1042.7 378.4,1042.0 379.6,1042.8 380.8,1041.3 382.0,1042.7 383.2,1042.2 384.3,1042.5 385.5,1042.4 386.7,1042.3 387.9,1041.6 389.1,1040.6 390.2,1042.0 391.4,1041.1 392.6,1041.4 393.8,1042.2 395.0,1042.2 396.2,1042.1 397.3,1043.2 398.5,1042.8 399.7,1042.5 400.9,1042.6 402.1,1043.8 403.2,1043.4 404.4,1044.1 405.6,1043.6 406.8,1043.5 408.0,1044.3 409.1,1045.1 410.3,1044.1 411.5,1045.5 412.7,1045.9 413.9,1046.0 415.1,1046.2 416.2,1045.0 417.4,1046.3 418.6,1047.0 419.8,1045.7 421.0,1046.4 422.1,1046.6 423.3,1047.3 424.5,1047.3 425.7,1047.6 426.9,1048.4 428.0,1047.2 429.2,1047.5 430.4,1047.8 431.6,1048.0 432.8,1048.1 434.0,1049.9 435.1,1049.9 436.3,1048.7 437.5,1049.6 438.7,1049.5 439.9,1049.7 441.0,1049.9 442.2,1050.6 443.4,1050.7 444.6,1050.5 445.8,1050.3 446.9,1050.8 448.1,1050.6 449.3,1051.5 450.5,1052.0 451.7,1051.6 452.9,1051.2 454.0,1051.6 455.2,1052.1 456.4,1052.7 457.6,1053.2 458.8,1052.6 459.9,1053.5 461.1,1053.4 462.3,1053.2 463.5,1053.3 464.7,1053.7 465.8,1054.2 467.0,1053.9 468.2,1054.6 469.4,1054.3" fill="none" stroke="#000" stroke-width="5.3" stroke-linejoin="round" stroke-linecap="round"/>
<polyline points="141.0,1207.3 142.2,1207.7 143.4,1207.8 144.5,1206.9 145.7,1207.4 146.9,1207.3 148.1,1207.9 149.3,1207.9 150.4,1207.1 151.6,1207.8 152.8,1207.6 154.0,1206.8 155.2,1207.0 156.4,1206.5 157.5,1207.4 158.7,1207.2 159.9,1207.4 161.1,1207.3 162.3,1207.0 163.4,1207.1 164.6,1206.8 165.8,1206.1 167.0,1206.7 168.2,1205.9 169.4,1206.0 170.5,1206.9 171.7,1205.8 172.9,1205.8 174.1,1205.8 175.3,1206.8 176.4,1205.8 177.6,1205.5 178.8,1206.6 180.0,1205.6 181.2,1206.5 182.3,1206.2 183.5,1206.4 184.7,1206.5 185.9,1206.0 187.1,1206.2 188.3,1205.1 189.4,1206.1 190.6,1205.7 191.8,1205.9 193.0,1205.0 194.2,1205.9 195.3,1206.1 196.5,1204.8 197.7,1205.1 198.9,1205.4 200.1,1205.7 201.2,1204.9 202.4,1204.7 203.6,1204.8 204.8,1205.2 206.0,1205.4 207.1,1204.8 208.3,1204.8 209.5,1204.7 210.7,1204.6 211.9,1204.7 213.1,1204.2 214.2,1204.7 215.4,1205.3 216.6,1204.5 217.8,1204.9 219.0,1204.0 220.1,1204.7 221.3,1204.8 222.5,1204.6 223.7,1204.3 224.9,1204.3 226.0,1204.4 227.2,1204.7 228.4,1203.6 229.6,1203.5 230.8,1204.4 232.0,1204.6 233.1,1204.0 234.3,1203.8 235.5,1204.2 236.7,1194.1 237.9,1186.4 239.0,1179.6 240.2,1174.5 241.4,1169.2 242.6,1164.8 243.8,1161.8 244.9,1158.9 246.1,1155.0 247.3,1153.0 248.5,1150.2 249.7,1148.7 250.9,1146.3 252.0,1144.1 253.2,1142.3 254.4,1140.5 255.6,1139.6 256.8,1138.1 257.9,1136.4 259.1,1135.4 260.3,1134.1 261.5,1133.6 262.7,1131.6 263.8,1131.7 265.0,1130.0 266.2,1129.1 267.4,1128.0 268.6,1127.5 269.8,1126.6 270.9,1125.3 272.1,1124.4 273.3,1123.9 274.5,1123.2 275.7,1121.8 276.8,1121.5 278.0,1121.1 279.2,1119.7 280.4,1118.6 281.6,1117.9 282.7,1117.9 283.9,1117.2 285.1,1117.0 286.3,1116.2 287.5,1114.8 288.7,1114.1 289.8,1113.6 291.0,1113.0 292.2,1113.2 293.4,1112.8 294.6,1112.4 295.7,1111.0 296.9,1111.3 298.1,1110.1 299.3,1109.8 300.5,1109.8 301.6,1108.4 302.8,1108.0 304.0,1108.6 305.2,1107.5 306.4,1107.2 307.6,1107.1 308.7,1106.8 309.9,1105.5 311.1,1105.7 312.3,1105.4 313.5,1105.2 314.6,1104.5 315.8,1104.7 317.0,1104.9 318.2,1103.8 319.4,1103.7 320.5,1102.8 321.7,1102.8 322.9,1103.0 324.1,1102.0 325.3,1102.8 326.5,1102.6 327.6,1101.2 328.8,1102.1 330.0,1101.1 331.2,1101.5 332.4,1101.2 333.5,1100.3 334.7,1100.7 335.9,1100.4 337.1,1100.4 338.3,1099.5 339.4,1100.0 340.6,1100.1 341.8,1099.5 343.0,1099.1 344.2,1098.4 345.4,1098.8 346.5,1098.4 347.7,1098.7 348.9,1098.5 350.1,1098.2 351.3,1097.6 352.4,1098.1 353.6,1097.9 354.8,1097.1 356.0,1098.0 357.2,1097.5 358.3,1096.7 359.5,1097.7 360.7,1096.5 361.9,1096.6 363.1,1097.0 364.3,1096.8 365.4,1096.6 366.6,1096.6 367.8,1096.3 369.0,1096.0 370.2,1095.7 371.3,1095.4 372.5,1096.2 373.7,1096.2 374.9,1095.8 376.1,1096.0 377.3,1095.4 378.4,1095.2 379.6,1095.3 380.8,1095.9 382.0,1094.7 383.2,1095.2 384.3,1094.8 385.5,1095.5 386.7,1094.8 387.9,1094.7 389.1,1094.8 390.2,1094.9 391.4,1095.2 392.6,1094.6 393.8,1095.3 395.0,1094.2 396.2,1094.4 397.3,1094.2 398.5,1094.2 399.7,1095.1 400.9,1095.1 402.1,1094.3 403.2,1094.3 404.4,1094.6 405.6,1095.1 406.8,1095.2 408.0,1095.1 409.1,1094.8 410.3,1094.2 411.5,1094.6 412.7,1094.3 413.9,1094.7 415.1,1094.8 416.2,1094.3 417.4,1094.3 418.6,1095.1 419.8,1094.0 421.0,1095.1 422.1,1095.2 423.3,1095.3 424.5,1094.5 425.7,1094.7 426.9,1094.7 428.0,1094.8 429.2,1095.3 430.4,1094.9 431.6,1094.3 432.8,1095.1 434.0,1094.6 435.1,1094.7 436.3,1094.9 437.5,1093.9 438.7,1095.0 439.9,1094.8 441.0,1094.6 442.2,1094.6 443.4,1094.5 444.6,1094.1 445.8,1094.6 446.9,1093.9 448.1,1094.5 449.3,1094.7 450.5,1094.5 451.7,1094.6 452.9,1095.2 454.0,1095.1 455.2,1094.0 456.4,1094.9 457.6,1094.7 458.8,1093.9 459.9,1094.3 461.1,1094.1 462.3,1093.9 463.5,1094.5 464.7,1095.1 465.8,1094.2 467.0,1095.0 468.2,1094.7 469.4,1093.9" fill="none" stroke="#f00" stroke-width="5.3" stroke-linejoin="round" stroke-linecap="round"/>
<line x1="141.0" y1="1249.0" x2="141.0" y2="1263.5" stroke="#000" stroke-width="6.2"/>
<text x="141.0" y="1289.0" font-size="29" text-anchor="middle">0</text>
<line x1="188.2" y1="1249.0" x2="188.2" y2="1263.5" stroke="#000" stroke-width="6.2"/>
<text x="188.2" y="1289.0" font-size="29" text-anchor="middle">1</text>
<line x1="235.5" y1="1249.0" x2="235.5" y2="1263.5" stroke="#000" stroke-width="6.2"/>
<text x="235.5" y="1289.0" font-size="29" text-anchor="middle">2</text>
<line x1="282.8" y1="1249.0" x2="282.8" y2="1263.5" stroke="#000" stroke-width="6.2"/>
<text x="282.8" y="1289.0" font-size="29" text-anchor="middle">3</text>
<line x1="330.0" y1="1249.0" x2="330.0" y2="1263.5" stroke="#000" stroke-width="6.2"/>
<text x="330.0" y="1289.0" font-size="29" text-anchor="middle">4</text>
<line x1="377.2" y1="1249.0" x2="377.2" y2="1263.5" stroke="#000" stroke-width="6.2"/>
<text x="377.2" y="1289.0" font-size="29" text-anchor="middle">5</text>
<line x1="424.5" y1="1249.0" x2="424.5" y2="1263.5" stroke="#000" stroke-width="6.2"/>
<text x="424.5" y="1289.0" font-size="29" text-anchor="middle">6</text>
<text x="331.5" y="1334.5" font-size="29" text-anchor="middle">Time (minutes)</text>
<text font-size="29" text-anchor="middle" transform="translate(42.0 1131.0) rotate(-90)">Mitochondrial calcium flux</text>
<text font-size="29" text-anchor="middle" transform="translate(76.0 1132.6) rotate(-90)">(Rhod2 Intensity)</text>
<line x1="407.0" y1="1172.0" x2="449.6" y2="1172.0" stroke="#000" stroke-width="6.2"/>
<text x="467.5" y="1180.0" font-size="29">Flox</text>
<line x1="407.0" y1="1210.7" x2="449.6" y2="1210.7" stroke="#f00" stroke-width="6.2"/>
<text x="470.0" y="1220.0" font-size="29">KO</text>
<text x="660.5" y="590.5" font-size="43.5" font-weight="bold">e</text>
<text x="761.0" y="655.2" font-size="28.5">24h</text>
<text x="837.5" y="655.2" font-size="28.5">48h</text>
<text x="912.8" y="655.2" font-size="28.5">72h</text>
<text x="970.8" y="655.2" font-size="28">144h</text>
<line x1="759.0" y1="664.9" x2="818.0" y2="664.9" stroke="#000" stroke-width="5.3"/>
<line x1="832.0" y1="664.9" x2="890.6" y2="664.9" stroke="#000" stroke-width="5.3"/>
<line x1="909.0" y1="664.9" x2="963.0" y2="664.9" stroke="#000" stroke-width="5.3"/>
<line x1="974.4" y1="664.9" x2="1028.0" y2="664.9" stroke="#000" stroke-width="5.3"/>
<text x="766.1" y="697.6" font-size="28.3">F</text>
<text x="799.3" y="697.6" font-size="28.3">K</text>
<text x="835.0" y="697.6" font-size="28.3">F</text>
<text x="868.0" y="697.6" font-size="28.3">K</text>
<text x="904.3" y="697.6" font-size="28.3">F</text>
<text x="937.3" y="697.6" font-size="28.3">K</text>
<text x="971.9" y="697.6" font-size="28.3">F</text>
<text x="1007.7" y="697.6" font-size="28.3">K</text>
<text x="1055.0" y="671.0" font-size="25">(kD)</text>
<linearGradient id="ge2" x1="0" x2="1" y1="0" y2="0"><stop offset="0" stop-color="#cdcdcd"/><stop offset="0.7" stop-color="#c8c8c8"/><stop offset="1" stop-color="#dcdcdc"/></linearGradient>
<linearGradient id="ge3" x1="0" x2="1" y1="0" y2="0"><stop offset="0" stop-color="#c2c2c2"/><stop offset="0.7" stop-color="#bdbdbd"/><stop offset="0.76" stop-color="#f2f2f2"/><stop offset="1" stop-color="#ececec"/></linearGradient>
<clipPath id="e753_709"><rect x="753.5" y="709.8" width="274.6" height="42.8"/></clipPath>
<rect x="754.3" y="710.6" width="273.0" height="41.2" fill="#e6e6e6"/>
<g clip-path="url(#e753_709)"><g filter="url(#bl2)">
<rect x="838.0" y="712.0" width="22.0" height="38.0" fill="#000" opacity="0.1" rx="3"/>
<rect x="871.0" y="712.0" width="24.0" height="38.0" fill="#000" opacity="0.12" rx="3"/>
<rect x="906.0" y="712.0" width="24.0" height="22.0" fill="#000" opacity="0.06" rx="3"/>
<rect x="938.0" y="712.0" width="24.0" height="22.0" fill="#000" opacity="0.07" rx="3"/>
<ellipse cx="848.8" cy="730.0" rx="10.0" ry="3.0" fill="#000" opacity="0.6"/>
<ellipse cx="883.0" cy="730.0" rx="11.5" ry="3.8" fill="#000" opacity="1.0"/>
<ellipse cx="883.0" cy="730.0" rx="7.0" ry="2.5" fill="#000" opacity="0.6"/>
<ellipse cx="918.3" cy="730.0" rx="10.0" ry="3.0" fill="#000" opacity="0.17"/>
<ellipse cx="950.0" cy="729.5" rx="10.0" ry="3.0" fill="#000" opacity="0.25"/>
<ellipse cx="848.0" cy="746.0" rx="8.0" ry="3.0" fill="#000" opacity="0.12"/>
<ellipse cx="882.0" cy="746.0" rx="8.0" ry="3.0" fill="#000" opacity="0.14"/>
</g></g>
<rect x="754.3" y="710.6" width="273.0" height="41.2" fill="none" stroke="#000" stroke-width="3.2"/>
<clipPath id="e755_760"><rect x="755" y="760.5" width="275.5" height="43.5"/></clipPath>
<rect x="755.8" y="761.3" width="273.9" height="41.9" fill="url(#ge2)"/>
<g clip-path="url(#e755_760)"><g filter="url(#bl2_5)">
<ellipse cx="877.0" cy="779.0" rx="50.0" ry="20.0" fill="#000" opacity="0.22"/>
<ellipse cx="877.0" cy="765.0" rx="60.0" ry="8.0" fill="#000" opacity="0.12"/>
<ellipse cx="778.0" cy="779.0" rx="13.0" ry="5.0" fill="#000" opacity="0.32"/>
<ellipse cx="811.0" cy="779.0" rx="13.0" ry="5.0" fill="#000" opacity="0.32"/>
<ellipse cx="843.7" cy="781.5" rx="14.0" ry="7.0" fill="#000" opacity="0.95"/>
<ellipse cx="876.6" cy="781.5" rx="13.5" ry="7.0" fill="#000" opacity="1.0"/>
<ellipse cx="843.7" cy="781.0" rx="9.0" ry="4.0" fill="#000" opacity="0.5"/>
<ellipse cx="876.6" cy="781.0" rx="9.0" ry="4.0" fill="#000" opacity="0.6"/>
<ellipse cx="907.5" cy="783.0" rx="14.0" ry="8.0" fill="#000" opacity="0.75"/>
<ellipse cx="941.0" cy="783.0" rx="13.0" ry="8.0" fill="#000" opacity="0.8"/>
<ellipse cx="973.0" cy="779.0" rx="11.0" ry="3.5" fill="#000" opacity="0.2"/>
<ellipse cx="1006.8" cy="778.5" rx="12.0" ry="5.0" fill="#000" opacity="0.5"/>
</g></g>
<rect x="755.8" y="761.3" width="273.9" height="41.9" fill="none" stroke="#000" stroke-width="3.2"/>
<clipPath id="e755_811"><rect x="755" y="811" width="278" height="47.5"/></clipPath>
<rect x="755.8" y="811.8" width="276.4" height="45.9" fill="url(#ge3)"/>
<g clip-path="url(#e755_811)"><g filter="url(#bl3)">
<rect x="763.0" y="814.0" width="26.0" height="42.0" fill="#000" opacity="0.22" rx="3"/>
<rect x="798.0" y="814.0" width="26.0" height="42.0" fill="#000" opacity="0.22" rx="3"/>
<ellipse cx="775.4" cy="836.0" rx="12.0" ry="8.0" fill="#000" opacity="0.18"/>
<ellipse cx="810.8" cy="838.0" rx="12.0" ry="8.0" fill="#000" opacity="0.18"/>
<rect x="833.0" y="812.0" width="26.0" height="46.0" fill="#000" opacity="0.72" rx="3"/>
<rect x="866.5" y="812.0" width="26.0" height="46.0" fill="#000" opacity="0.68" rx="3"/>
<ellipse cx="846.2" cy="836.0" rx="13.0" ry="9.0" fill="#000" opacity="0.75"/>
<ellipse cx="879.1" cy="838.0" rx="13.0" ry="9.0" fill="#000" opacity="0.7"/>
<rect x="899.5" y="813.0" width="26.0" height="44.0" fill="#000" opacity="0.42" rx="3"/>
<rect x="932.0" y="813.0" width="26.0" height="44.0" fill="#000" opacity="0.48" rx="3"/>
<ellipse cx="912.0" cy="837.0" rx="12.0" ry="8.0" fill="#000" opacity="0.25"/>
<ellipse cx="944.9" cy="838.0" rx="12.0" ry="9.0" fill="#000" opacity="0.25"/>
<ellipse cx="979.0" cy="832.0" rx="11.0" ry="5.0" fill="#000" opacity="0.14"/>
<ellipse cx="1013.2" cy="831.0" rx="11.0" ry="7.0" fill="#000" opacity="0.2"/>
<ellipse cx="1013.2" cy="847.0" rx="10.0" ry="4.0" fill="#000" opacity="0.1"/>
<ellipse cx="979.0" cy="847.0" rx="10.0" ry="4.0" fill="#000" opacity="0.06"/>
</g></g>
<rect x="755.8" y="811.8" width="276.4" height="45.9" fill="none" stroke="#000" stroke-width="3.2"/>
<clipPath id="e755_867"><rect x="755" y="867" width="278" height="49"/></clipPath>
<rect x="755.8" y="867.8" width="276.4" height="47.4" fill="#ececec"/>
<g clip-path="url(#e755_867)"><g filter="url(#bl2_5)">
<ellipse cx="780.0" cy="880.3" rx="11.0" ry="4.0" fill="#000" opacity="0.5"/>
<ellipse cx="813.5" cy="881.0" rx="11.0" ry="4.0" fill="#000" opacity="0.5"/>
<rect x="836.0" y="870.0" width="22.0" height="44.0" fill="#000" opacity="0.16" rx="3"/>
<rect x="868.0" y="870.0" width="24.0" height="44.0" fill="#000" opacity="0.2" rx="3"/>
<rect x="901.0" y="870.0" width="24.0" height="36.0" fill="#000" opacity="0.12" rx="3"/>
<rect x="933.0" y="870.0" width="24.0" height="40.0" fill="#000" opacity="0.18" rx="3"/>
<rect x="968.0" y="872.0" width="22.0" height="38.0" fill="#000" opacity="0.05" rx="3"/>
<rect x="1001.0" y="872.0" width="24.0" height="40.0" fill="#000" opacity="0.08" rx="3"/>
<ellipse cx="846.5" cy="888.0" rx="11.0" ry="6.0" fill="#000" opacity="0.45"/>
<ellipse cx="846.5" cy="875.0" rx="10.0" ry="4.0" fill="#000" opacity="0.3"/>
<ellipse cx="879.5" cy="889.0" rx="12.5" ry="7.0" fill="#000" opacity="0.8"/>
<ellipse cx="879.5" cy="875.5" rx="11.0" ry="4.5" fill="#000" opacity="0.45"/>
<ellipse cx="912.5" cy="888.5" rx="12.0" ry="5.5" fill="#000" opacity="0.5"/>
<ellipse cx="912.5" cy="875.0" rx="10.0" ry="4.0" fill="#000" opacity="0.3"/>
<ellipse cx="945.5" cy="890.0" rx="13.0" ry="7.0" fill="#000" opacity="0.85"/>
<ellipse cx="945.5" cy="875.0" rx="11.0" ry="4.5" fill="#000" opacity="0.5"/>
<ellipse cx="979.0" cy="887.0" rx="11.0" ry="4.0" fill="#000" opacity="0.3"/>
<ellipse cx="1012.0" cy="888.0" rx="11.0" ry="5.0" fill="#000" opacity="0.42"/>
<ellipse cx="1012.0" cy="875.0" rx="10.0" ry="4.0" fill="#000" opacity="0.15"/>
</g></g>
<rect x="755.8" y="867.8" width="276.4" height="47.4" fill="none" stroke="#000" stroke-width="3.2"/>
<clipPath id="e756_921"><rect x="756.5" y="921" width="275.5" height="46"/></clipPath>
<rect x="757.3" y="921.8" width="273.9" height="44.4" fill="#dedede"/>
<g clip-path="url(#e756_921)"><g filter="url(#bl2)">
<ellipse cx="778.0" cy="944.0" rx="10.0" ry="3.0" fill="#000" opacity="0.1"/>
<rect x="838.0" y="925.0" width="20.0" height="38.0" fill="#000" opacity="0.05" rx="3"/>
<ellipse cx="846.5" cy="944.3" rx="10.5" ry="4.0" fill="#000" opacity="0.5"/>
<ellipse cx="880.0" cy="945.0" rx="9.0" ry="3.5" fill="#000" opacity="0.1"/>
<ellipse cx="912.0" cy="943.7" rx="10.5" ry="3.6" fill="#000" opacity="1.0"/>
<ellipse cx="912.0" cy="943.7" rx="7.0" ry="2.4" fill="#000" opacity="0.8"/>
<ellipse cx="942.0" cy="947.0" rx="8.0" ry="5.0" fill="#000" opacity="0.12"/>
<ellipse cx="977.0" cy="942.5" rx="9.0" ry="2.5" fill="#000" opacity="0.12"/>
<ellipse cx="1011.0" cy="942.5" rx="8.0" ry="3.0" fill="#000" opacity="0.08"/>
</g></g>
<rect x="757.3" y="921.8" width="273.9" height="44.4" fill="none" stroke="#000" stroke-width="3.2"/>
<clipPath id="e755_972"><rect x="755" y="972" width="277.5" height="50"/></clipPath>
<rect x="755.8" y="972.8" width="275.9" height="48.4" fill="#f5f5f5"/>
<g clip-path="url(#e755_972)"><g filter="url(#bl1_8)">
<ellipse cx="777.0" cy="990.3" rx="13.5" ry="3.6" fill="#000" opacity="0.9"/>
<ellipse cx="811.5" cy="991.7" rx="13.0" ry="3.5" fill="#000" opacity="0.85"/>
<ellipse cx="846.0" cy="994.3" rx="14.0" ry="4.2" fill="#000" opacity="0.92"/>
<ellipse cx="879.0" cy="994.5" rx="14.0" ry="4.2" fill="#000" opacity="0.92"/>
<ellipse cx="912.5" cy="996.0" rx="14.0" ry="5.2" fill="#000" opacity="0.97"/>
<ellipse cx="944.5" cy="997.3" rx="13.5" ry="5.5" fill="#000" opacity="0.97"/>
<ellipse cx="978.0" cy="994.8" rx="12.5" ry="3.8" fill="#000" opacity="0.88"/>
<ellipse cx="1010.5" cy="993.3" rx="13.5" ry="4.2" fill="#000" opacity="0.95"/>
</g></g>
<rect x="755.8" y="972.8" width="275.9" height="48.4" fill="none" stroke="#000" stroke-width="3.2"/>
<text x="737.8" y="739.5" font-size="28.2" text-anchor="end">p-DRP1</text>
<text x="736.6" y="791.7" font-size="28.2" text-anchor="end">DRP1</text>
<text x="738.6" y="848.0" font-size="28.2" text-anchor="end">OPA-1</text>
<text x="741.6" y="902.0" font-size="28.2" text-anchor="end">MFN2</text>
<text x="738.6" y="956.0" font-size="28.2" text-anchor="end">DsbA-L</text>
<text x="739.6" y="1003.6" font-size="28.2" text-anchor="end">β-Actin</text>
<line x1="1034.0" y1="713.0" x2="1051.5" y2="713.0" stroke="#000" stroke-width="3.6"/>
<text x="1059.5" y="721.2" font-size="25.2">95</text>
<line x1="1034.0" y1="740.6" x2="1052.0" y2="740.6" stroke="#000" stroke-width="3.6"/>
<text x="1059.5" y="749.5" font-size="25.2">72</text>
<line x1="1035.0" y1="772.0" x2="1052.0" y2="772.0" stroke="#000" stroke-width="3.6"/>
<text x="1061.0" y="781.0" font-size="25.2">95</text>
<line x1="1035.5" y1="817.9" x2="1053.0" y2="817.9" stroke="#000" stroke-width="3.6"/>
<text x="1057.5" y="822.8" font-size="25.2">130</text>
<line x1="1035.5" y1="851.0" x2="1053.0" y2="851.0" stroke="#000" stroke-width="3.6"/>
<text x="1061.5" y="855.2" font-size="25.2">95</text>
<line x1="1036.0" y1="872.0" x2="1053.5" y2="872.0" stroke="#000" stroke-width="3.6"/>
<text x="1061.5" y="882.2" font-size="25.2">95</text>
<line x1="1036.0" y1="904.5" x2="1053.5" y2="904.5" stroke="#000" stroke-width="3.6"/>
<text x="1061.5" y="913.6" font-size="25.2">72</text>
<line x1="1036.0" y1="944.7" x2="1053.5" y2="944.7" stroke="#000" stroke-width="3.6"/>
<text x="1060.0" y="953.1" font-size="25.2">26</text>
<line x1="1036.0" y1="989.0" x2="1053.5" y2="989.0" stroke="#000" stroke-width="3.6"/>
<text x="1059.5" y="997.2" font-size="25.2">43</text>
<text x="1198.5" y="578.5" font-size="43.5" font-weight="bold">f</text>
<text x="1408.8" y="605.0" font-size="28.5" text-anchor="middle">Flox</text>
<text x="1716.0" y="605.0" font-size="28.5" text-anchor="middle">KO</text>
<line x1="1258.7" y1="612.8" x2="1570.5" y2="612.8" stroke="#000" stroke-width="5.6"/>
<line x1="1576.5" y1="612.2" x2="1888.0" y2="612.2" stroke="#000" stroke-width="5.6"/>
<text x="1248.0" y="718.5" font-size="29" text-anchor="end">24 h</text>
<text x="1248.0" y="856.5" font-size="29" text-anchor="end">48 h</text>
<text x="1248.0" y="995.5" font-size="29" text-anchor="end">72 h</text>
<text x="1248.0" y="1168.5" font-size="29" text-anchor="end">144 h</text>
<rect x="1259.0" y="618.7" width="154.7" height="152.3" fill="#000"/>
<rect x="1417.4" y="618.7" width="154.9" height="152.3" fill="#000"/>
<rect x="1577.4" y="618.7" width="154.8" height="152.3" fill="#000"/>
<rect x="1736.8" y="618.7" width="160.0" height="152.3" fill="#000"/>
<rect x="1259.0" y="775.0" width="154.7" height="151.6" fill="#000"/>
<rect x="1417.4" y="775.0" width="154.9" height="151.6" fill="#000"/>
<rect x="1577.4" y="775.0" width="154.8" height="151.6" fill="#000"/>
<rect x="1736.8" y="775.0" width="160.0" height="151.6" fill="#000"/>
<rect x="1259.0" y="931.0" width="154.7" height="151.6" fill="#000"/>
<rect x="1417.4" y="931.0" width="154.9" height="151.6" fill="#000"/>
<rect x="1577.4" y="931.0" width="154.8" height="151.6" fill="#000"/>
<rect x="1736.8" y="931.0" width="160.0" height="151.6" fill="#000"/>
<rect x="1259.0" y="1087.2" width="154.7" height="152.4" fill="#000"/>
<rect x="1417.4" y="1087.2" width="154.9" height="152.4" fill="#000"/>
<rect x="1577.4" y="1087.2" width="154.8" height="152.4" fill="#000"/>
<rect x="1736.8" y="1087.2" width="160.0" height="152.4" fill="#000"/>
<clipPath id="f00"><rect x="1259" y="618.7" width="154.70000000000005" height="152.29999999999995"/></clipPath>
<g clip-path="url(#f00)">
<g filter="url(#b1)">
<ellipse cx="1337.8" cy="668.5" rx="13.2" ry="16.5" fill="url(#bg)" opacity="1" transform="rotate(15 1337.8 668.5)"/>
<ellipse cx="1336.5" cy="671.6" rx="3.6" ry="2.1" fill="#00005a" opacity="0.6" transform="rotate(137 1336.5 671.6)"/>
<ellipse cx="1342.0" cy="672.0" rx="4.0" ry="2.3" fill="#00005a" opacity="0.6" transform="rotate(22 1342.0 672.0)"/>
<ellipse cx="1335.6" cy="669.7" rx="2.5" ry="2.7" fill="#00005a" opacity="0.6" transform="rotate(144 1335.6 669.7)"/>
<ellipse cx="1340.0" cy="671.3" rx="3.5" ry="3.5" fill="#00005a" opacity="0.6" transform="rotate(147 1340.0 671.3)"/>
<ellipse cx="1353.8" cy="699.7" rx="15.2" ry="16.0" fill="url(#bg)" opacity="1" transform="rotate(0 1353.8 699.7)"/>
<ellipse cx="1351.6" cy="698.3" rx="3.2" ry="2.8" fill="#00005a" opacity="0.6" transform="rotate(34 1351.6 698.3)"/>
<ellipse cx="1353.0" cy="702.9" rx="3.0" ry="2.4" fill="#00005a" opacity="0.6" transform="rotate(174 1353.0 702.9)"/>
<ellipse cx="1356.3" cy="705.2" rx="4.1" ry="2.5" fill="#00005a" opacity="0.6" transform="rotate(140 1356.3 705.2)"/>
<ellipse cx="1352.5" cy="693.8" rx="4.0" ry="2.7" fill="#00005a" opacity="0.6" transform="rotate(136 1352.5 693.8)"/>
</g>
<g filter="url(#g1)">
<ellipse cx="1322.6" cy="657.2" rx="3.9" ry="3.2" fill="#00e600" opacity="1" transform="rotate(0 1322.6 657.2)"/>
<ellipse cx="1318.4" cy="662.6" rx="3.5" ry="3.2" fill="#00e600" opacity="1" transform="rotate(0 1318.4 662.6)"/>
<ellipse cx="1317.0" cy="668.5" rx="3.5" ry="3.2" fill="#00e600" opacity="1" transform="rotate(0 1317.0 668.5)"/>
<ellipse cx="1318.7" cy="674.4" rx="3.5" ry="3.2" fill="#00e600" opacity="1" transform="rotate(0 1318.7 674.4)"/>
<ellipse cx="1321.4" cy="679.5" rx="3.5" ry="3.2" fill="#00e600" opacity="1" transform="rotate(0 1321.4 679.5)"/>
<ellipse cx="1324.8" cy="684.2" rx="2.8" ry="2.5" fill="#00e600" opacity="1" transform="rotate(0 1324.8 684.2)"/>
<ellipse cx="1347.1" cy="683.7" rx="1.8" ry="1.4" fill="#00e600" opacity="0.6" transform="rotate(0 1347.1 683.7)"/>
<ellipse cx="1334.1" cy="700.5" rx="2.8" ry="2.5" fill="#00e600" opacity="1" transform="rotate(0 1334.1 700.5)"/>
<ellipse cx="1334.9" cy="706.4" rx="2.8" ry="2.5" fill="#00e600" opacity="1" transform="rotate(0 1334.9 706.4)"/>
<ellipse cx="1336.9" cy="712.3" rx="3.2" ry="2.5" fill="#00e600" opacity="1" transform="rotate(0 1336.9 712.3)"/>
<ellipse cx="1340.7" cy="716.2" rx="2.5" ry="2.1" fill="#00e600" opacity="1" transform="rotate(0 1340.7 716.2)"/>
</g>
<rect x="1265.6" y="761.7" width="23.6" height="3.4" fill="#fff"/>
</g>
<clipPath id="f01"><rect x="1417.4" y="618.7" width="154.89999999999986" height="152.29999999999995"/></clipPath>
<g clip-path="url(#f01)">
<ellipse cx="1495.8" cy="668.5" rx="13.2" ry="16.5" fill="none" stroke="#00a000" stroke-width="0.9" opacity="0.3" transform="rotate(15 1495.8 668.5)"/>
<g filter="url(#g1)">
<ellipse cx="1480.6" cy="657.2" rx="3.9" ry="3.2" fill="#00e600" opacity="1" transform="rotate(0 1480.6 657.2)"/>
<ellipse cx="1476.4" cy="662.6" rx="3.5" ry="3.2" fill="#00e600" opacity="1" transform="rotate(0 1476.4 662.6)"/>
<ellipse cx="1475.0" cy="668.5" rx="3.5" ry="3.2" fill="#00e600" opacity="1" transform="rotate(0 1475.0 668.5)"/>
<ellipse cx="1476.7" cy="674.4" rx="3.5" ry="3.2" fill="#00e600" opacity="1" transform="rotate(0 1476.7 674.4)"/>
<ellipse cx="1479.4" cy="679.5" rx="3.5" ry="3.2" fill="#00e600" opacity="1" transform="rotate(0 1479.4 679.5)"/>
<ellipse cx="1482.8" cy="684.2" rx="2.8" ry="2.5" fill="#00e600" opacity="1" transform="rotate(0 1482.8 684.2)"/>
<ellipse cx="1505.1" cy="683.7" rx="1.8" ry="1.4" fill="#00e600" opacity="0.6" transform="rotate(0 1505.1 683.7)"/>
<ellipse cx="1492.1" cy="700.5" rx="2.8" ry="2.5" fill="#00e600" opacity="1" transform="rotate(0 1492.1 700.5)"/>
<ellipse cx="1492.9" cy="706.4" rx="2.8" ry="2.5" fill="#00e600" opacity="1" transform="rotate(0 1492.9 706.4)"/>
<ellipse cx="1494.9" cy="712.3" rx="3.2" ry="2.5" fill="#00e600" opacity="1" transform="rotate(0 1494.9 712.3)"/>
<ellipse cx="1498.7" cy="716.2" rx="2.5" ry="2.1" fill="#00e600" opacity="1" transform="rotate(0 1498.7 716.2)"/>
</g>
<rect x="1430.0" y="761.7" width="23.6" height="3.4" fill="#fff"/>
</g>
<clipPath id="f02"><rect x="1577.4" y="618.7" width="154.79999999999995" height="152.29999999999995"/></clipPath>
<g clip-path="url(#f02)">
<g filter="url(#b1)">
<ellipse cx="1680.7" cy="676.0" rx="16.6" ry="17.4" fill="url(#bg)" opacity="1" transform="rotate(20 1680.7 676.0)"/>
<ellipse cx="1676.6" cy="678.1" rx="4.3" ry="2.9" fill="#00005a" opacity="0.6" transform="rotate(76 1676.6 678.1)"/>
<ellipse cx="1680.7" cy="679.9" rx="4.8" ry="2.2" fill="#00005a" opacity="0.6" transform="rotate(76 1680.7 679.9)"/>
<ellipse cx="1672.5" cy="674.6" rx="4.7" ry="2.6" fill="#00005a" opacity="0.6" transform="rotate(18 1672.5 674.6)"/>
<ellipse cx="1684.6" cy="679.7" rx="4.7" ry="2.4" fill="#00005a" opacity="0.6" transform="rotate(125 1684.6 679.7)"/>
<ellipse cx="1655.9" cy="701.6" rx="14.0" ry="15.4" fill="url(#bg)" opacity="1" transform="rotate(-15 1655.9 701.6)"/>
<ellipse cx="1649.3" cy="705.5" rx="2.7" ry="2.7" fill="#00005a" opacity="0.6" transform="rotate(80 1649.3 705.5)"/>
<ellipse cx="1653.8" cy="705.4" rx="3.5" ry="3.1" fill="#00005a" opacity="0.6" transform="rotate(17 1653.8 705.4)"/>
<ellipse cx="1659.9" cy="694.8" rx="3.4" ry="2.9" fill="#00005a" opacity="0.6" transform="rotate(15 1659.9 694.8)"/>
<ellipse cx="1655.5" cy="697.4" rx="3.7" ry="2.9" fill="#00005a" opacity="0.6" transform="rotate(114 1655.5 697.4)"/>
</g>
<g filter="url(#g1)">
<ellipse cx="1661.4" cy="675.2" rx="3.2" ry="3.6" fill="#00e600" opacity="1" transform="rotate(0 1661.4 675.2)"/>
<ellipse cx="1664.5" cy="669.2" rx="3.6" ry="3.6" fill="#00e600" opacity="1" transform="rotate(0 1664.5 669.2)"/>
<ellipse cx="1668.2" cy="664.1" rx="3.6" ry="3.6" fill="#00e600" opacity="1" transform="rotate(0 1668.2 664.1)"/>
<ellipse cx="1673.0" cy="659.8" rx="3.6" ry="3.2" fill="#00e600" opacity="1" transform="rotate(0 1673.0 659.8)"/>
<ellipse cx="1680.2" cy="657.4" rx="2.9" ry="2.3" fill="#00e600" opacity="1" transform="rotate(0 1680.2 657.4)"/>
<ellipse cx="1695.9" cy="676.9" rx="2.2" ry="2.2" fill="#00e600" opacity="0.9" transform="rotate(0 1695.9 676.9)"/>
<ellipse cx="1666.2" cy="687.1" rx="2.2" ry="1.8" fill="#00e600" opacity="0.7" transform="rotate(0 1666.2 687.1)"/>
<ellipse cx="1638.9" cy="703.3" rx="2.9" ry="3.6" fill="#00e600" opacity="1" transform="rotate(0 1638.9 703.3)"/>
<ellipse cx="1638.5" cy="711.0" rx="2.2" ry="2.5" fill="#00e600" opacity="0.8" transform="rotate(0 1638.5 711.0)"/>
<ellipse cx="1639.7" cy="715.3" rx="2.5" ry="1.8" fill="#00e600" opacity="0.8" transform="rotate(0 1639.7 715.3)"/>
<ellipse cx="1649.1" cy="716.5" rx="2.5" ry="1.6" fill="#00e600" opacity="0.8" transform="rotate(0 1649.1 716.5)"/>
<ellipse cx="1659.4" cy="715.3" rx="1.8" ry="1.4" fill="#00e600" opacity="0.7" transform="rotate(0 1659.4 715.3)"/>
</g>
<rect x="1589.4" y="761.7" width="23.6" height="3.4" fill="#fff"/>
</g>
<clipPath id="f03"><rect x="1736.8" y="618.7" width="160.0" height="152.29999999999995"/></clipPath>
<g clip-path="url(#f03)">
<ellipse cx="1842.2" cy="676.0" rx="16.6" ry="17.4" fill="none" stroke="#00a000" stroke-width="0.9" opacity="0.3" transform="rotate(20 1842.2 676.0)"/>
<g filter="url(#g1)">
<ellipse cx="1822.9" cy="675.2" rx="3.2" ry="3.6" fill="#00e600" opacity="1" transform="rotate(0 1822.9 675.2)"/>
<ellipse cx="1826.0" cy="669.2" rx="3.6" ry="3.6" fill="#00e600" opacity="1" transform="rotate(0 1826.0 669.2)"/>
<ellipse cx="1829.7" cy="664.1" rx="3.6" ry="3.6" fill="#00e600" opacity="1" transform="rotate(0 1829.7 664.1)"/>
<ellipse cx="1834.5" cy="659.8" rx="3.6" ry="3.2" fill="#00e600" opacity="1" transform="rotate(0 1834.5 659.8)"/>
<ellipse cx="1841.7" cy="657.4" rx="2.9" ry="2.3" fill="#00e600" opacity="1" transform="rotate(0 1841.7 657.4)"/>
<ellipse cx="1857.4" cy="676.9" rx="2.2" ry="2.2" fill="#00e600" opacity="0.9" transform="rotate(0 1857.4 676.9)"/>
<ellipse cx="1827.7" cy="687.1" rx="2.2" ry="1.8" fill="#00e600" opacity="0.7" transform="rotate(0 1827.7 687.1)"/>
<ellipse cx="1800.4" cy="703.3" rx="2.9" ry="3.6" fill="#00e600" opacity="1" transform="rotate(0 1800.4 703.3)"/>
<ellipse cx="1800.0" cy="711.0" rx="2.2" ry="2.5" fill="#00e600" opacity="0.8" transform="rotate(0 1800.0 711.0)"/>
<ellipse cx="1801.2" cy="715.3" rx="2.5" ry="1.8" fill="#00e600" opacity="0.8" transform="rotate(0 1801.2 715.3)"/>
<ellipse cx="1810.6" cy="716.5" rx="2.5" ry="1.6" fill="#00e600" opacity="0.8" transform="rotate(0 1810.6 716.5)"/>
<ellipse cx="1820.9" cy="715.3" rx="1.8" ry="1.4" fill="#00e600" opacity="0.7" transform="rotate(0 1820.9 715.3)"/>
</g>
<rect x="1752.0" y="760.2" width="23.9" height="3.4" fill="#fff"/>
</g>
<clipPath id="f10"><rect x="1259" y="775" width="154.70000000000005" height="151.60000000000002"/></clipPath>
<g clip-path="url(#f10)">
<g filter="url(#b1)">
<ellipse cx="1326.8" cy="853.5" rx="21.1" ry="16.0" fill="url(#bg)" opacity="1" transform="rotate(12 1326.8 853.5)"/>
<ellipse cx="1325.4" cy="858.2" rx="5.8" ry="2.0" fill="#00005a" opacity="0.6" transform="rotate(118 1325.4 858.2)"/>
<ellipse cx="1321.7" cy="858.5" rx="5.3" ry="2.3" fill="#00005a" opacity="0.6" transform="rotate(73 1321.7 858.5)"/>
<ellipse cx="1330.4" cy="856.4" rx="4.9" ry="3.3" fill="#00005a" opacity="0.6" transform="rotate(20 1330.4 856.4)"/>
<ellipse cx="1330.1" cy="857.8" rx="4.6" ry="2.1" fill="#00005a" opacity="0.6" transform="rotate(110 1330.1 857.8)"/>
<ellipse cx="1369.3" cy="838.3" rx="16.0" ry="17.2" fill="url(#bg)" opacity="1" transform="rotate(-20 1369.3 838.3)"/>
<ellipse cx="1372.1" cy="834.9" rx="3.8" ry="2.7" fill="#00005a" opacity="0.6" transform="rotate(97 1372.1 834.9)"/>
<ellipse cx="1372.6" cy="837.3" rx="3.3" ry="2.5" fill="#00005a" opacity="0.6" transform="rotate(59 1372.6 837.3)"/>
<ellipse cx="1377.0" cy="838.9" rx="3.3" ry="2.5" fill="#00005a" opacity="0.6" transform="rotate(37 1377.0 838.9)"/>
<ellipse cx="1365.2" cy="840.8" rx="4.2" ry="3.7" fill="#00005a" opacity="0.6" transform="rotate(176 1365.2 840.8)"/>
</g>
<g filter="url(#g1)">
<ellipse cx="1363.9" cy="815.9" rx="6.0" ry="3.2" fill="#00e600" opacity="1" transform="rotate(10 1363.9 815.9)"/>
<ellipse cx="1358.9" cy="820.6" rx="3.2" ry="3.9" fill="#00e600" opacity="0.8" transform="rotate(30 1358.9 820.6)"/>
<ellipse cx="1372.4" cy="818.9" rx="2.5" ry="1.8" fill="#00e600" opacity="0.8" transform="rotate(0 1372.4 818.9)"/>
<ellipse cx="1383.3" cy="838.3" rx="1.8" ry="3.5" fill="#00e600" opacity="1" transform="rotate(0 1383.3 838.3)"/>
<ellipse cx="1383.3" cy="843.4" rx="2.1" ry="2.5" fill="#00e600" opacity="1" transform="rotate(0 1383.3 843.4)"/>
<ellipse cx="1379.9" cy="850.6" rx="1.6" ry="1.6" fill="#00e600" opacity="0.8" transform="rotate(0 1379.9 850.6)"/>
<ellipse cx="1328.5" cy="836.9" rx="8.9" ry="1.8" fill="#00e600" opacity="0.8" transform="rotate(8 1328.5 836.9)"/>
<ellipse cx="1335.3" cy="839.1" rx="3.2" ry="1.8" fill="#00e600" opacity="0.9" transform="rotate(20 1335.3 839.1)"/>
<ellipse cx="1315.9" cy="834.9" rx="2.1" ry="1.8" fill="#00e600" opacity="0.6" transform="rotate(0 1315.9 834.9)"/>
<ellipse cx="1308.3" cy="841.7" rx="2.1" ry="2.1" fill="#00e600" opacity="0.5" transform="rotate(0 1308.3 841.7)"/>
<ellipse cx="1305.2" cy="857.7" rx="2.1" ry="4.6" fill="#00e600" opacity="0.9" transform="rotate(-10 1305.2 857.7)"/>
<ellipse cx="1310.0" cy="865.3" rx="3.9" ry="2.5" fill="#00e600" opacity="0.9" transform="rotate(35 1310.0 865.3)"/>
<ellipse cx="1319.2" cy="870.3" rx="5.3" ry="2.1" fill="#00e600" opacity="0.9" transform="rotate(15 1319.2 870.3)"/>
<ellipse cx="1331.0" cy="868.7" rx="1.8" ry="1.2" fill="#00e600" opacity="0.6" transform="rotate(0 1331.0 868.7)"/>
</g>
<rect x="1267.5" y="909.6" width="23.6" height="3.4" fill="#fff"/>
</g>
<clipPath id="f11"><rect x="1417.4" y="775" width="154.89999999999986" height="151.60000000000002"/></clipPath>
<g clip-path="url(#f11)">
<g filter="url(#g1)">
<ellipse cx="1523.9" cy="815.9" rx="6.0" ry="3.2" fill="#00e600" opacity="1" transform="rotate(10 1523.9 815.9)"/>
<ellipse cx="1518.9" cy="820.6" rx="3.2" ry="3.9" fill="#00e600" opacity="0.8" transform="rotate(30 1518.9 820.6)"/>
<ellipse cx="1532.4" cy="818.9" rx="2.5" ry="1.8" fill="#00e600" opacity="0.8" transform="rotate(0 1532.4 818.9)"/>
<ellipse cx="1543.3" cy="838.3" rx="1.8" ry="3.5" fill="#00e600" opacity="1" transform="rotate(0 1543.3 838.3)"/>
<ellipse cx="1543.3" cy="843.4" rx="2.1" ry="2.5" fill="#00e600" opacity="1" transform="rotate(0 1543.3 843.4)"/>
<ellipse cx="1539.9" cy="850.6" rx="1.6" ry="1.6" fill="#00e600" opacity="0.8" transform="rotate(0 1539.9 850.6)"/>
<ellipse cx="1488.5" cy="836.9" rx="8.9" ry="1.8" fill="#00e600" opacity="0.8" transform="rotate(8 1488.5 836.9)"/>
<ellipse cx="1495.3" cy="839.1" rx="3.2" ry="1.8" fill="#00e600" opacity="0.9" transform="rotate(20 1495.3 839.1)"/>
<ellipse cx="1475.9" cy="834.9" rx="2.1" ry="1.8" fill="#00e600" opacity="0.6" transform="rotate(0 1475.9 834.9)"/>
<ellipse cx="1468.3" cy="841.7" rx="2.1" ry="2.1" fill="#00e600" opacity="0.5" transform="rotate(0 1468.3 841.7)"/>
<ellipse cx="1465.2" cy="857.7" rx="2.1" ry="4.6" fill="#00e600" opacity="0.9" transform="rotate(-10 1465.2 857.7)"/>
<ellipse cx="1470.0" cy="865.3" rx="3.9" ry="2.5" fill="#00e600" opacity="0.9" transform="rotate(35 1470.0 865.3)"/>
<ellipse cx="1479.2" cy="870.3" rx="5.3" ry="2.1" fill="#00e600" opacity="0.9" transform="rotate(15 1479.2 870.3)"/>
<ellipse cx="1491.0" cy="868.7" rx="1.8" ry="1.2" fill="#00e600" opacity="0.6" transform="rotate(0 1491.0 868.7)"/>
</g>
<rect x="1429.4" y="911.8" width="23.6" height="3.4" fill="#fff"/>
</g>
<clipPath id="f12"><rect x="1577.4" y="775" width="154.79999999999995" height="151.60000000000002"/></clipPath>
<g clip-path="url(#f12)">
<g filter="url(#b1)">
<ellipse cx="1677.3" cy="798.2" rx="11.1" ry="11.6" fill="url(#bg)" opacity="1" transform="rotate(0 1677.3 798.2)"/>
<ellipse cx="1681.0" cy="793.4" rx="3.0" ry="2.3" fill="#00005a" opacity="0.6" transform="rotate(116 1681.0 793.4)"/>
<ellipse cx="1681.4" cy="795.0" rx="3.4" ry="2.3" fill="#00005a" opacity="0.6" transform="rotate(100 1681.4 795.0)"/>
<ellipse cx="1674.5" cy="800.3" rx="2.7" ry="1.9" fill="#00005a" opacity="0.6" transform="rotate(48 1674.5 800.3)"/>
<ellipse cx="1679.6" cy="799.3" rx="2.2" ry="1.8" fill="#00005a" opacity="0.6" transform="rotate(13 1679.6 799.3)"/>
<ellipse cx="1615.8" cy="853.3" rx="9.9" ry="9.4" fill="url(#bg)" opacity="0.55" transform="rotate(0 1615.8 853.3)"/>
<ellipse cx="1656.3" cy="889.5" rx="14.5" ry="12.8" fill="url(#bg)" opacity="1" transform="rotate(0 1656.3 889.5)"/>
<ellipse cx="1660.7" cy="892.4" rx="3.7" ry="2.8" fill="#00005a" opacity="0.6" transform="rotate(157 1660.7 892.4)"/>
<ellipse cx="1663.4" cy="890.5" rx="3.9" ry="1.7" fill="#00005a" opacity="0.6" transform="rotate(64 1663.4 890.5)"/>
<ellipse cx="1661.7" cy="888.1" rx="3.6" ry="1.7" fill="#00005a" opacity="0.6" transform="rotate(124 1661.7 888.1)"/>
<ellipse cx="1661.2" cy="889.3" rx="3.6" ry="1.6" fill="#00005a" opacity="0.6" transform="rotate(26 1661.2 889.3)"/>
<ellipse cx="1685.0" cy="779.9" rx="7.7" ry="5.1" fill="url(#bg)" opacity="0.35" transform="rotate(0 1685.0 779.9)"/>
<ellipse cx="1727.6" cy="778.2" rx="3.8" ry="2.4" fill="url(#bg)" opacity="0.8" transform="rotate(0 1727.6 778.2)"/>
<ellipse cx="1720.8" cy="779.9" rx="2.4" ry="2.0" fill="url(#bg)" opacity="0.6" transform="rotate(0 1720.8 779.9)"/>
</g>
<g filter="url(#g1)">
<ellipse cx="1667.9" cy="784.0" rx="5.0" ry="2.5" fill="#00e600" opacity="1" transform="rotate(-30 1667.9 784.0)"/>
<ellipse cx="1661.9" cy="789.6" rx="2.9" ry="3.2" fill="#00e600" opacity="1" transform="rotate(0 1661.9 789.6)"/>
<ellipse cx="1658.0" cy="796.5" rx="2.5" ry="2.9" fill="#00e600" opacity="1" transform="rotate(0 1658.0 796.5)"/>
<ellipse cx="1661.1" cy="801.6" rx="3.6" ry="2.5" fill="#00e600" opacity="1" transform="rotate(0 1661.1 801.6)"/>
<ellipse cx="1665.3" cy="806.2" rx="2.9" ry="2.5" fill="#00e600" opacity="1" transform="rotate(0 1665.3 806.2)"/>
<ellipse cx="1672.2" cy="810.1" rx="3.9" ry="1.8" fill="#00e600" opacity="0.9" transform="rotate(20 1672.2 810.1)"/>
<ellipse cx="1678.1" cy="808.4" rx="2.5" ry="2.2" fill="#00e600" opacity="0.8" transform="rotate(0 1678.1 808.4)"/>
<ellipse cx="1622.1" cy="846.5" rx="2.2" ry="2.9" fill="#00e600" opacity="1" transform="rotate(0 1622.1 846.5)"/>
<ellipse cx="1625.2" cy="853.6" rx="2.5" ry="3.2" fill="#00e600" opacity="1" transform="rotate(0 1625.2 853.6)"/>
<ellipse cx="1622.7" cy="859.6" rx="3.9" ry="2.5" fill="#00e600" opacity="1" transform="rotate(0 1622.7 859.6)"/>
<ellipse cx="1604.7" cy="857.1" rx="2.2" ry="2.2" fill="#00e600" opacity="0.8" transform="rotate(0 1604.7 857.1)"/>
<ellipse cx="1614.1" cy="860.5" rx="2.2" ry="1.8" fill="#00e600" opacity="0.8" transform="rotate(0 1614.1 860.5)"/>
<ellipse cx="1608.1" cy="863.9" rx="3.6" ry="1.8" fill="#00e600" opacity="0.4" transform="rotate(0 1608.1 863.9)"/>
<ellipse cx="1615.0" cy="867.0" rx="3.6" ry="1.4" fill="#00e600" opacity="0.4" transform="rotate(0 1615.0 867.0)"/>
<ellipse cx="1644.0" cy="881.8" rx="1.6" ry="1.8" fill="#00e600" opacity="0.9" transform="rotate(0 1644.0 881.8)"/>
<ellipse cx="1640.2" cy="891.5" rx="2.2" ry="3.6" fill="#00e600" opacity="1" transform="rotate(15 1640.2 891.5)"/>
<ellipse cx="1669.6" cy="891.5" rx="1.8" ry="2.9" fill="#00e600" opacity="0.9" transform="rotate(-20 1669.6 891.5)"/>
<ellipse cx="1645.7" cy="902.3" rx="2.9" ry="2.2" fill="#00e600" opacity="0.9" transform="rotate(0 1645.7 902.3)"/>
<ellipse cx="1650.8" cy="907.4" rx="4.3" ry="3.2" fill="#00e600" opacity="1" transform="rotate(0 1650.8 907.4)"/>
<ellipse cx="1657.6" cy="909.1" rx="4.7" ry="3.2" fill="#00e600" opacity="1" transform="rotate(0 1657.6 909.1)"/>
<ellipse cx="1664.5" cy="905.7" rx="3.9" ry="3.2" fill="#00e600" opacity="1" transform="rotate(0 1664.5 905.7)"/>
<ellipse cx="1668.7" cy="901.4" rx="2.5" ry="2.2" fill="#00e600" opacity="0.9" transform="rotate(0 1668.7 901.4)"/>
<ellipse cx="1655.9" cy="903.2" rx="9.0" ry="2.5" fill="#00e600" opacity="0.8" transform="rotate(0 1655.9 903.2)"/>
</g>
<rect x="1589.4" y="910.0" width="23.6" height="3.4" fill="#fff"/>
</g>
<clipPath id="f13"><rect x="1736.8" y="775" width="160.0" height="151.60000000000002"/></clipPath>
<g clip-path="url(#f13)">
<g filter="url(#g1)">
<ellipse cx="1830.4" cy="784.0" rx="5.0" ry="2.5" fill="#00e600" opacity="1" transform="rotate(-30 1830.4 784.0)"/>
<ellipse cx="1824.4" cy="789.6" rx="2.9" ry="3.2" fill="#00e600" opacity="1" transform="rotate(0 1824.4 789.6)"/>
<ellipse cx="1820.5" cy="796.5" rx="2.5" ry="2.9" fill="#00e600" opacity="1" transform="rotate(0 1820.5 796.5)"/>
<ellipse cx="1823.6" cy="801.6" rx="3.6" ry="2.5" fill="#00e600" opacity="1" transform="rotate(0 1823.6 801.6)"/>
<ellipse cx="1827.8" cy="806.2" rx="2.9" ry="2.5" fill="#00e600" opacity="1" transform="rotate(0 1827.8 806.2)"/>
<ellipse cx="1834.7" cy="810.1" rx="3.9" ry="1.8" fill="#00e600" opacity="0.9" transform="rotate(20 1834.7 810.1)"/>
<ellipse cx="1840.6" cy="808.4" rx="2.5" ry="2.2" fill="#00e600" opacity="0.8" transform="rotate(0 1840.6 808.4)"/>
<ellipse cx="1784.6" cy="846.5" rx="2.2" ry="2.9" fill="#00e600" opacity="1" transform="rotate(0 1784.6 846.5)"/>
<ellipse cx="1787.7" cy="853.6" rx="2.5" ry="3.2" fill="#00e600" opacity="1" transform="rotate(0 1787.7 853.6)"/>
<ellipse cx="1785.2" cy="859.6" rx="3.9" ry="2.5" fill="#00e600" opacity="1" transform="rotate(0 1785.2 859.6)"/>
<ellipse cx="1767.2" cy="857.1" rx="2.2" ry="2.2" fill="#00e600" opacity="0.8" transform="rotate(0 1767.2 857.1)"/>
<ellipse cx="1776.6" cy="860.5" rx="2.2" ry="1.8" fill="#00e600" opacity="0.8" transform="rotate(0 1776.6 860.5)"/>
<ellipse cx="1770.6" cy="863.9" rx="3.6" ry="1.8" fill="#00e600" opacity="0.4" transform="rotate(0 1770.6 863.9)"/>
<ellipse cx="1777.5" cy="867.0" rx="3.6" ry="1.4" fill="#00e600" opacity="0.4" transform="rotate(0 1777.5 867.0)"/>
<ellipse cx="1806.5" cy="881.8" rx="1.6" ry="1.8" fill="#00e600" opacity="0.9" transform="rotate(0 1806.5 881.8)"/>
<ellipse cx="1802.7" cy="891.5" rx="2.2" ry="3.6" fill="#00e600" opacity="1" transform="rotate(15 1802.7 891.5)"/>
<ellipse cx="1832.1" cy="891.5" rx="1.8" ry="2.9" fill="#00e600" opacity="0.9" transform="rotate(-20 1832.1 891.5)"/>
<ellipse cx="1808.2" cy="902.3" rx="2.9" ry="2.2" fill="#00e600" opacity="0.9" transform="rotate(0 1808.2 902.3)"/>
<ellipse cx="1813.3" cy="907.4" rx="4.3" ry="3.2" fill="#00e600" opacity="1" transform="rotate(0 1813.3 907.4)"/>
<ellipse cx="1820.1" cy="909.1" rx="4.7" ry="3.2" fill="#00e600" opacity="1" transform="rotate(0 1820.1 909.1)"/>
<ellipse cx="1827.0" cy="905.7" rx="3.9" ry="3.2" fill="#00e600" opacity="1" transform="rotate(0 1827.0 905.7)"/>
<ellipse cx="1831.2" cy="901.4" rx="2.5" ry="2.2" fill="#00e600" opacity="0.9" transform="rotate(0 1831.2 901.4)"/>
<ellipse cx="1818.4" cy="903.2" rx="9.0" ry="2.5" fill="#00e600" opacity="0.8" transform="rotate(0 1818.4 903.2)"/>
</g>
<rect x="1752.0" y="909.1" width="23.9" height="3.4" fill="#fff"/>
</g>
<clipPath id="f20"><rect x="1259" y="931" width="154.70000000000005" height="151.5999999999999"/></clipPath>
<g clip-path="url(#f20)">
<g filter="url(#b1)">
<ellipse cx="1313.3" cy="970.7" rx="16.4" ry="13.8" fill="url(#bg)" opacity="1" transform="rotate(10 1313.3 970.7)"/>
<ellipse cx="1313.3" cy="964.5" rx="4.0" ry="2.6" fill="#00005a" opacity="0.6" transform="rotate(132 1313.3 964.5)"/>
<ellipse cx="1321.9" cy="971.7" rx="4.2" ry="1.9" fill="#00005a" opacity="0.6" transform="rotate(139 1321.9 971.7)"/>
<ellipse cx="1319.7" cy="967.5" rx="3.6" ry="2.5" fill="#00005a" opacity="0.6" transform="rotate(23 1319.7 967.5)"/>
<ellipse cx="1312.0" cy="967.4" rx="3.8" ry="1.9" fill="#00005a" opacity="0.6" transform="rotate(57 1312.0 967.4)"/>
<ellipse cx="1386.7" cy="1021.3" rx="16.2" ry="16.5" fill="url(#bg)" opacity="1" transform="rotate(0 1386.7 1021.3)"/>
<ellipse cx="1379.4" cy="1019.7" rx="3.7" ry="2.4" fill="#00005a" opacity="0.6" transform="rotate(49 1379.4 1019.7)"/>
<ellipse cx="1389.4" cy="1013.9" rx="4.6" ry="2.4" fill="#00005a" opacity="0.6" transform="rotate(132 1389.4 1013.9)"/>
<ellipse cx="1379.5" cy="1021.6" rx="5.2" ry="3.3" fill="#00005a" opacity="0.6" transform="rotate(120 1379.5 1021.6)"/>
<ellipse cx="1386.3" cy="1028.3" rx="5.1" ry="2.7" fill="#00005a" opacity="0.6" transform="rotate(89 1386.3 1028.3)"/>
<ellipse cx="1318.1" cy="1044.0" rx="12.6" ry="16.9" fill="url(#bg)" opacity="1" transform="rotate(10 1318.1 1044.0)"/>
<ellipse cx="1321.7" cy="1042.7" rx="2.7" ry="2.4" fill="#00005a" opacity="0.6" transform="rotate(50 1321.7 1042.7)"/>
<ellipse cx="1315.8" cy="1049.0" rx="4.0" ry="3.1" fill="#00005a" opacity="0.6" transform="rotate(0 1315.8 1049.0)"/>
<ellipse cx="1312.9" cy="1044.9" rx="3.7" ry="2.2" fill="#00005a" opacity="0.6" transform="rotate(169 1312.9 1044.9)"/>
<ellipse cx="1320.9" cy="1047.6" rx="3.5" ry="2.4" fill="#00005a" opacity="0.6" transform="rotate(45 1320.9 1047.6)"/>
</g>
<g filter="url(#g1)">
<ellipse cx="1310.3" cy="954.3" rx="5.3" ry="3.5" fill="#00e600" opacity="1" transform="rotate(0 1310.3 954.3)"/>
<ellipse cx="1311.3" cy="947.9" rx="2.5" ry="2.1" fill="#00e600" opacity="0.8" transform="rotate(0 1311.3 947.9)"/>
<ellipse cx="1318.7" cy="953.8" rx="3.9" ry="2.5" fill="#00e600" opacity="1" transform="rotate(0 1318.7 953.8)"/>
<ellipse cx="1331.0" cy="956.4" rx="2.1" ry="1.8" fill="#00e600" opacity="0.6" transform="rotate(0 1331.0 956.4)"/>
<ellipse cx="1324.8" cy="963.4" rx="2.5" ry="2.1" fill="#00e600" opacity="1" transform="rotate(0 1324.8 963.4)"/>
<ellipse cx="1329.5" cy="967.1" rx="2.1" ry="1.8" fill="#00e600" opacity="1" transform="rotate(0 1329.5 967.1)"/>
<ellipse cx="1329.4" cy="973.6" rx="1.6" ry="1.4" fill="#00e600" opacity="0.7" transform="rotate(0 1329.4 973.6)"/>
<ellipse cx="1294.4" cy="965.6" rx="1.2" ry="1.2" fill="#00e600" opacity="0.5" transform="rotate(0 1294.4 965.6)"/>
<ellipse cx="1385.0" cy="1004.4" rx="3.9" ry="1.6" fill="#00e600" opacity="1" transform="rotate(-10 1385.0 1004.4)"/>
<ellipse cx="1393.4" cy="1004.9" rx="2.5" ry="1.4" fill="#00e600" opacity="1" transform="rotate(0 1393.4 1004.9)"/>
<ellipse cx="1368.6" cy="1027.2" rx="1.8" ry="2.1" fill="#00e600" opacity="1" transform="rotate(0 1368.6 1027.2)"/>
<ellipse cx="1402.7" cy="1025.0" rx="2.5" ry="1.4" fill="#00e600" opacity="0.9" transform="rotate(0 1402.7 1025.0)"/>
<ellipse cx="1387.5" cy="1039.3" rx="3.2" ry="1.4" fill="#00e600" opacity="1" transform="rotate(-25 1387.5 1039.3)"/>
<ellipse cx="1394.3" cy="1034.8" rx="2.5" ry="1.2" fill="#00e600" opacity="0.9" transform="rotate(-25 1394.3 1034.8)"/>
<ellipse cx="1329.4" cy="1033.1" rx="2.1" ry="2.5" fill="#00e600" opacity="1" transform="rotate(0 1329.4 1033.1)"/>
<ellipse cx="1331.9" cy="1039.0" rx="2.5" ry="2.1" fill="#00e600" opacity="1" transform="rotate(0 1331.9 1039.0)"/>
<ellipse cx="1335.3" cy="1044.0" rx="3.9" ry="3.5" fill="#00e600" opacity="1" transform="rotate(0 1335.3 1044.0)"/>
<ellipse cx="1339.0" cy="1048.8" rx="3.2" ry="2.8" fill="#00e600" opacity="1" transform="rotate(0 1339.0 1048.8)"/>
<ellipse cx="1335.3" cy="1053.3" rx="3.2" ry="2.1" fill="#00e600" opacity="1" transform="rotate(0 1335.3 1053.3)"/>
<ellipse cx="1331.9" cy="1057.2" rx="3.9" ry="2.1" fill="#00e600" opacity="1" transform="rotate(-20 1331.9 1057.2)"/>
<ellipse cx="1326.8" cy="1045.7" rx="1.8" ry="1.8" fill="#00e600" opacity="0.9" transform="rotate(0 1326.8 1045.7)"/>
</g>
<rect x="1265.6" y="1070.0" width="23.6" height="3.4" fill="#fff"/>
</g>
<clipPath id="f21"><rect x="1417.4" y="931" width="154.89999999999986" height="151.5999999999999"/></clipPath>
<g clip-path="url(#f21)">
<g filter="url(#g1)">
<ellipse cx="1469.7" cy="954.3" rx="5.3" ry="3.5" fill="#00e600" opacity="1" transform="rotate(0 1469.7 954.3)"/>
<ellipse cx="1470.7" cy="947.9" rx="2.5" ry="2.1" fill="#00e600" opacity="0.8" transform="rotate(0 1470.7 947.9)"/>
<ellipse cx="1478.1" cy="953.8" rx="3.9" ry="2.5" fill="#00e600" opacity="1" transform="rotate(0 1478.1 953.8)"/>
<ellipse cx="1490.4" cy="956.4" rx="2.1" ry="1.8" fill="#00e600" opacity="0.6" transform="rotate(0 1490.4 956.4)"/>
<ellipse cx="1484.2" cy="963.4" rx="2.5" ry="2.1" fill="#00e600" opacity="1" transform="rotate(0 1484.2 963.4)"/>
<ellipse cx="1488.9" cy="967.1" rx="2.1" ry="1.8" fill="#00e600" opacity="1" transform="rotate(0 1488.9 967.1)"/>
<ellipse cx="1488.8" cy="973.6" rx="1.6" ry="1.4" fill="#00e600" opacity="0.7" transform="rotate(0 1488.8 973.6)"/>
<ellipse cx="1453.8" cy="965.6" rx="1.2" ry="1.2" fill="#00e600" opacity="0.5" transform="rotate(0 1453.8 965.6)"/>
<ellipse cx="1544.4" cy="1004.4" rx="3.9" ry="1.6" fill="#00e600" opacity="1" transform="rotate(-10 1544.4 1004.4)"/>
<ellipse cx="1552.8" cy="1004.9" rx="2.5" ry="1.4" fill="#00e600" opacity="1" transform="rotate(0 1552.8 1004.9)"/>
<ellipse cx="1528.0" cy="1027.2" rx="1.8" ry="2.1" fill="#00e600" opacity="1" transform="rotate(0 1528.0 1027.2)"/>
<ellipse cx="1562.1" cy="1025.0" rx="2.5" ry="1.4" fill="#00e600" opacity="0.9" transform="rotate(0 1562.1 1025.0)"/>
<ellipse cx="1546.9" cy="1039.3" rx="3.2" ry="1.4" fill="#00e600" opacity="1" transform="rotate(-25 1546.9 1039.3)"/>
<ellipse cx="1553.7" cy="1034.8" rx="2.5" ry="1.2" fill="#00e600" opacity="0.9" transform="rotate(-25 1553.7 1034.8)"/>
<ellipse cx="1488.8" cy="1033.1" rx="2.1" ry="2.5" fill="#00e600" opacity="1" transform="rotate(0 1488.8 1033.1)"/>
<ellipse cx="1491.3" cy="1039.0" rx="2.5" ry="2.1" fill="#00e600" opacity="1" transform="rotate(0 1491.3 1039.0)"/>
<ellipse cx="1494.7" cy="1044.0" rx="3.9" ry="3.5" fill="#00e600" opacity="1" transform="rotate(0 1494.7 1044.0)"/>
<ellipse cx="1498.4" cy="1048.8" rx="3.2" ry="2.8" fill="#00e600" opacity="1" transform="rotate(0 1498.4 1048.8)"/>
<ellipse cx="1494.7" cy="1053.3" rx="3.2" ry="2.1" fill="#00e600" opacity="1" transform="rotate(0 1494.7 1053.3)"/>
<ellipse cx="1491.3" cy="1057.2" rx="3.9" ry="2.1" fill="#00e600" opacity="1" transform="rotate(-20 1491.3 1057.2)"/>
<ellipse cx="1486.2" cy="1045.7" rx="1.8" ry="1.8" fill="#00e600" opacity="0.9" transform="rotate(0 1486.2 1045.7)"/>
</g>
<rect x="1429.4" y="1068.3" width="23.6" height="3.4" fill="#fff"/>
</g>
<clipPath id="f22"><rect x="1577.4" y="931" width="154.79999999999995" height="151.5999999999999"/></clipPath>
<g clip-path="url(#f22)">
<g filter="url(#b1)">
<ellipse cx="1617.5" cy="996.0" rx="17.1" ry="14.5" fill="url(#bg)" opacity="1" transform="rotate(15 1617.5 996.0)"/>
<ellipse cx="1611.2" cy="998.4" rx="3.3" ry="3.1" fill="#00005a" opacity="0.6" transform="rotate(101 1611.2 998.4)"/>
<ellipse cx="1610.1" cy="997.5" rx="3.3" ry="2.0" fill="#00005a" opacity="0.6" transform="rotate(32 1610.1 997.5)"/>
<ellipse cx="1624.0" cy="997.0" rx="4.2" ry="2.7" fill="#00005a" opacity="0.6" transform="rotate(156 1624.0 997.0)"/>
<ellipse cx="1621.8" cy="989.0" rx="4.6" ry="2.2" fill="#00005a" opacity="0.6" transform="rotate(140 1621.8 989.0)"/>
<ellipse cx="1650.8" cy="1019.0" rx="18.8" ry="17.1" fill="url(#bg)" opacity="1" transform="rotate(10 1650.8 1019.0)"/>
<ellipse cx="1648.0" cy="1018.2" rx="5.5" ry="3.3" fill="#00005a" opacity="0.6" transform="rotate(26 1648.0 1018.2)"/>
<ellipse cx="1641.1" cy="1017.6" rx="4.5" ry="3.5" fill="#00005a" opacity="0.6" transform="rotate(54 1641.1 1017.6)"/>
<ellipse cx="1655.2" cy="1019.7" rx="4.7" ry="3.4" fill="#00005a" opacity="0.6" transform="rotate(83 1655.2 1019.7)"/>
<ellipse cx="1650.5" cy="1024.4" rx="3.7" ry="3.6" fill="#00005a" opacity="0.6" transform="rotate(90 1650.5 1024.4)"/>
<ellipse cx="1680.7" cy="981.5" rx="14.0" ry="14.5" fill="url(#bg)" opacity="1" transform="rotate(0 1680.7 981.5)"/>
<ellipse cx="1685.3" cy="977.9" rx="4.1" ry="2.5" fill="#00005a" opacity="0.6" transform="rotate(128 1685.3 977.9)"/>
<ellipse cx="1682.7" cy="983.7" rx="3.5" ry="3.0" fill="#00005a" opacity="0.6" transform="rotate(46 1682.7 983.7)"/>
<ellipse cx="1675.7" cy="977.3" rx="2.8" ry="1.9" fill="#00005a" opacity="0.6" transform="rotate(158 1675.7 977.3)"/>
<ellipse cx="1679.9" cy="976.1" rx="3.2" ry="2.5" fill="#00005a" opacity="0.6" transform="rotate(142 1679.9 976.1)"/>
<ellipse cx="1715.7" cy="1019.0" rx="15.7" ry="16.2" fill="url(#bg)" opacity="1" transform="rotate(20 1715.7 1019.0)"/>
<ellipse cx="1708.5" cy="1019.9" rx="4.8" ry="2.0" fill="#00005a" opacity="0.6" transform="rotate(48 1708.5 1019.9)"/>
<ellipse cx="1714.5" cy="1026.4" rx="3.9" ry="2.9" fill="#00005a" opacity="0.6" transform="rotate(16 1714.5 1026.4)"/>
<ellipse cx="1709.9" cy="1021.3" rx="3.9" ry="2.8" fill="#00005a" opacity="0.6" transform="rotate(177 1709.9 1021.3)"/>
<ellipse cx="1714.7" cy="1024.7" rx="4.6" ry="2.8" fill="#00005a" opacity="0.6" transform="rotate(63 1714.7 1024.7)"/>
<ellipse cx="1665.0" cy="942.6" rx="1.9" ry="1.9" fill="url(#bg)" opacity="0.7" transform="rotate(0 1665.0 942.6)"/>
<ellipse cx="1681.5" cy="946.5" rx="1.9" ry="1.7" fill="url(#bg)" opacity="0.7" transform="rotate(0 1681.5 946.5)"/>
<ellipse cx="1672.2" cy="946.8" rx="1.5" ry="1.5" fill="url(#bg)" opacity="0.5" transform="rotate(0 1672.2 946.8)"/>
<ellipse cx="1676.4" cy="955.9" rx="1.5" ry="1.5" fill="url(#bg)" opacity="0.35" transform="rotate(0 1676.4 955.9)"/>
</g>
<g filter="url(#g1)">
<ellipse cx="1615.8" cy="978.1" rx="1.8" ry="1.6" fill="#00e600" opacity="1" transform="rotate(0 1615.8 978.1)"/>
<ellipse cx="1620.9" cy="977.2" rx="1.6" ry="1.6" fill="#00e600" opacity="0.9" transform="rotate(0 1620.9 977.2)"/>
<ellipse cx="1622.1" cy="980.6" rx="1.6" ry="1.6" fill="#00e600" opacity="0.9" transform="rotate(0 1622.1 980.6)"/>
<ellipse cx="1630.8" cy="986.6" rx="2.9" ry="2.9" fill="#00e600" opacity="1" transform="rotate(0 1630.8 986.6)"/>
<ellipse cx="1632.0" cy="991.7" rx="2.5" ry="2.5" fill="#00e600" opacity="1" transform="rotate(0 1632.0 991.7)"/>
<ellipse cx="1632.9" cy="1000.3" rx="1.6" ry="1.6" fill="#00e600" opacity="0.9" transform="rotate(0 1632.9 1000.3)"/>
<ellipse cx="1677.3" cy="967.0" rx="6.5" ry="2.3" fill="#00e600" opacity="1" transform="rotate(-12 1677.3 967.0)"/>
<ellipse cx="1667.5" cy="974.1" rx="3.9" ry="2.5" fill="#00e600" opacity="1" transform="rotate(-25 1667.5 974.1)"/>
<ellipse cx="1674.7" cy="994.6" rx="2.2" ry="2.2" fill="#00e600" opacity="1" transform="rotate(0 1674.7 994.6)"/>
<ellipse cx="1692.1" cy="987.8" rx="2.2" ry="2.2" fill="#00e600" opacity="1" transform="rotate(0 1692.1 987.8)"/>
<ellipse cx="1666.2" cy="1015.1" rx="2.2" ry="2.2" fill="#00e600" opacity="1" transform="rotate(0 1666.2 1015.1)"/>
<ellipse cx="1699.5" cy="1011.4" rx="3.2" ry="3.9" fill="#00e600" opacity="1" transform="rotate(0 1699.5 1011.4)"/>
<ellipse cx="1701.2" cy="1018.2" rx="2.2" ry="2.2" fill="#00e600" opacity="0.9" transform="rotate(0 1701.2 1018.2)"/>
<ellipse cx="1703.7" cy="1027.6" rx="1.8" ry="1.8" fill="#00e600" opacity="0.6" transform="rotate(0 1703.7 1027.6)"/>
<ellipse cx="1633.7" cy="1030.5" rx="3.2" ry="3.9" fill="#00e600" opacity="1" transform="rotate(-20 1633.7 1030.5)"/>
<ellipse cx="1642.3" cy="1036.1" rx="2.2" ry="1.6" fill="#00e600" opacity="0.8" transform="rotate(0 1642.3 1036.1)"/>
<ellipse cx="1650.0" cy="1037.8" rx="3.9" ry="1.6" fill="#00e600" opacity="1" transform="rotate(10 1650.0 1037.8)"/>
<ellipse cx="1630.3" cy="1019.0" rx="0.9" ry="1.8" fill="#00e600" opacity="0.5" transform="rotate(0 1630.3 1019.0)"/>
<ellipse cx="1671.3" cy="951.6" rx="2.5" ry="1.8" fill="#00e600" opacity="0.35" transform="rotate(0 1671.3 951.6)"/>
</g>
<rect x="1591.6" y="1068.2" width="23.6" height="3.4" fill="#fff"/>
</g>
<clipPath id="f23"><rect x="1736.8" y="931" width="160.0" height="151.5999999999999"/></clipPath>
<g clip-path="url(#f23)">
<g filter="url(#g1)">
<ellipse cx="1778.8" cy="978.1" rx="1.8" ry="1.6" fill="#00e600" opacity="1" transform="rotate(0 1778.8 978.1)"/>
<ellipse cx="1783.9" cy="977.2" rx="1.6" ry="1.6" fill="#00e600" opacity="0.9" transform="rotate(0 1783.9 977.2)"/>
<ellipse cx="1785.1" cy="980.6" rx="1.6" ry="1.6" fill="#00e600" opacity="0.9" transform="rotate(0 1785.1 980.6)"/>
<ellipse cx="1793.8" cy="986.6" rx="2.9" ry="2.9" fill="#00e600" opacity="1" transform="rotate(0 1793.8 986.6)"/>
<ellipse cx="1795.0" cy="991.7" rx="2.5" ry="2.5" fill="#00e600" opacity="1" transform="rotate(0 1795.0 991.7)"/>
<ellipse cx="1795.9" cy="1000.3" rx="1.6" ry="1.6" fill="#00e600" opacity="0.9" transform="rotate(0 1795.9 1000.3)"/>
<ellipse cx="1840.3" cy="967.0" rx="6.5" ry="2.3" fill="#00e600" opacity="1" transform="rotate(-12 1840.3 967.0)"/>
<ellipse cx="1830.5" cy="974.1" rx="3.9" ry="2.5" fill="#00e600" opacity="1" transform="rotate(-25 1830.5 974.1)"/>
<ellipse cx="1837.7" cy="994.6" rx="2.2" ry="2.2" fill="#00e600" opacity="1" transform="rotate(0 1837.7 994.6)"/>
<ellipse cx="1855.1" cy="987.8" rx="2.2" ry="2.2" fill="#00e600" opacity="1" transform="rotate(0 1855.1 987.8)"/>
<ellipse cx="1829.2" cy="1015.1" rx="2.2" ry="2.2" fill="#00e600" opacity="1" transform="rotate(0 1829.2 1015.1)"/>
<ellipse cx="1862.5" cy="1011.4" rx="3.2" ry="3.9" fill="#00e600" opacity="1" transform="rotate(0 1862.5 1011.4)"/>
<ellipse cx="1864.2" cy="1018.2" rx="2.2" ry="2.2" fill="#00e600" opacity="0.9" transform="rotate(0 1864.2 1018.2)"/>
<ellipse cx="1866.7" cy="1027.6" rx="1.8" ry="1.8" fill="#00e600" opacity="0.6" transform="rotate(0 1866.7 1027.6)"/>
<ellipse cx="1796.7" cy="1030.5" rx="3.2" ry="3.9" fill="#00e600" opacity="1" transform="rotate(-20 1796.7 1030.5)"/>
<ellipse cx="1805.3" cy="1036.1" rx="2.2" ry="1.6" fill="#00e600" opacity="0.8" transform="rotate(0 1805.3 1036.1)"/>
<ellipse cx="1813.0" cy="1037.8" rx="3.9" ry="1.6" fill="#00e600" opacity="1" transform="rotate(10 1813.0 1037.8)"/>
<ellipse cx="1793.3" cy="1019.0" rx="0.9" ry="1.8" fill="#00e600" opacity="0.5" transform="rotate(0 1793.3 1019.0)"/>
<ellipse cx="1834.3" cy="951.6" rx="2.5" ry="1.8" fill="#00e600" opacity="0.35" transform="rotate(0 1834.3 951.6)"/>
</g>
<rect x="1751.2" y="1066.0" width="23.7" height="3.4" fill="#fff"/>
</g>
<clipPath id="f30"><rect x="1259" y="1087.2" width="154.70000000000005" height="152.39999999999986"/></clipPath>
<g clip-path="url(#f30)">
<g filter="url(#b1)">
<ellipse cx="1266.5" cy="1109.0" rx="12.1" ry="16.9" fill="url(#bg)" opacity="1" transform="rotate(-10 1266.5 1109.0)"/>
<ellipse cx="1264.5" cy="1101.0" rx="3.8" ry="2.5" fill="#00005a" opacity="0.6" transform="rotate(143 1264.5 1101.0)"/>
<ellipse cx="1268.6" cy="1106.5" rx="2.9" ry="2.7" fill="#00005a" opacity="0.6" transform="rotate(100 1268.6 1106.5)"/>
<ellipse cx="1264.4" cy="1110.1" rx="2.6" ry="2.1" fill="#00005a" opacity="0.6" transform="rotate(171 1264.4 1110.1)"/>
<ellipse cx="1265.7" cy="1112.2" rx="3.5" ry="3.6" fill="#00005a" opacity="0.6" transform="rotate(164 1265.7 1112.2)"/>
<ellipse cx="1292.3" cy="1135.1" rx="13.8" ry="16.0" fill="url(#bg)" opacity="0.95" transform="rotate(0 1292.3 1135.1)"/>
<ellipse cx="1290.7" cy="1132.3" rx="4.2" ry="3.5" fill="#00005a" opacity="0.6" transform="rotate(56 1290.7 1132.3)"/>
<ellipse cx="1292.2" cy="1132.1" rx="4.2" ry="2.2" fill="#00005a" opacity="0.6" transform="rotate(170 1292.2 1132.1)"/>
<ellipse cx="1293.7" cy="1132.1" rx="3.3" ry="2.7" fill="#00005a" opacity="0.6" transform="rotate(86 1293.7 1132.1)"/>
<ellipse cx="1288.7" cy="1137.3" rx="2.7" ry="2.5" fill="#00005a" opacity="0.6" transform="rotate(86 1288.7 1137.3)"/>
<ellipse cx="1348.7" cy="1119.9" rx="18.2" ry="16.9" fill="url(#bg)" opacity="1" transform="rotate(0 1348.7 1119.9)"/>
<ellipse cx="1343.1" cy="1118.1" rx="3.3" ry="2.6" fill="#00005a" opacity="0.6" transform="rotate(159 1343.1 1118.1)"/>
<ellipse cx="1346.0" cy="1128.6" rx="3.6" ry="3.6" fill="#00005a" opacity="0.6" transform="rotate(58 1346.0 1128.6)"/>
<ellipse cx="1352.2" cy="1119.4" rx="4.0" ry="2.1" fill="#00005a" opacity="0.6" transform="rotate(46 1352.2 1119.4)"/>
<ellipse cx="1348.3" cy="1123.3" rx="4.4" ry="3.6" fill="#00005a" opacity="0.6" transform="rotate(66 1348.3 1123.3)"/>
<ellipse cx="1347.9" cy="1104.8" rx="7.1" ry="7.1" fill="url(#bg)" opacity="0.9" transform="rotate(0 1347.9 1104.8)"/>
<ellipse cx="1379.9" cy="1100.9" rx="13.2" ry="12.6" fill="url(#bg)" opacity="0.85" transform="rotate(0 1379.9 1100.9)"/>
<ellipse cx="1376.0" cy="1103.5" rx="3.3" ry="2.1" fill="#00005a" opacity="0.6" transform="rotate(83 1376.0 1103.5)"/>
<ellipse cx="1381.9" cy="1102.1" rx="3.6" ry="2.1" fill="#00005a" opacity="0.6" transform="rotate(18 1381.9 1102.1)"/>
<ellipse cx="1379.7" cy="1102.9" rx="2.5" ry="1.8" fill="#00005a" opacity="0.6" transform="rotate(155 1379.7 1102.9)"/>
<ellipse cx="1381.4" cy="1099.1" rx="4.0" ry="2.1" fill="#00005a" opacity="0.6" transform="rotate(86 1381.4 1099.1)"/>
<ellipse cx="1387.5" cy="1129.7" rx="13.5" ry="13.2" fill="url(#bg)" opacity="1" transform="rotate(0 1387.5 1129.7)"/>
<ellipse cx="1391.8" cy="1129.6" rx="4.2" ry="2.4" fill="#00005a" opacity="0.6" transform="rotate(11 1391.8 1129.6)"/>
<ellipse cx="1384.3" cy="1129.2" rx="2.6" ry="1.8" fill="#00005a" opacity="0.6" transform="rotate(12 1384.3 1129.2)"/>
<ellipse cx="1390.5" cy="1136.0" rx="3.6" ry="2.3" fill="#00005a" opacity="0.6" transform="rotate(52 1390.5 1136.0)"/>
<ellipse cx="1386.4" cy="1134.2" rx="2.8" ry="2.0" fill="#00005a" opacity="0.6" transform="rotate(4 1386.4 1134.2)"/>
<ellipse cx="1390.9" cy="1158.7" rx="14.3" ry="13.8" fill="url(#bg)" opacity="1" transform="rotate(0 1390.9 1158.7)"/>
<ellipse cx="1393.3" cy="1158.6" rx="2.6" ry="2.4" fill="#00005a" opacity="0.6" transform="rotate(48 1393.3 1158.6)"/>
<ellipse cx="1387.4" cy="1158.4" rx="3.5" ry="2.6" fill="#00005a" opacity="0.6" transform="rotate(166 1387.4 1158.4)"/>
<ellipse cx="1386.4" cy="1160.7" rx="4.3" ry="2.2" fill="#00005a" opacity="0.6" transform="rotate(129 1386.4 1160.7)"/>
<ellipse cx="1389.7" cy="1161.8" rx="3.0" ry="1.9" fill="#00005a" opacity="0.6" transform="rotate(180 1389.7 1161.8)"/>
<ellipse cx="1330.7" cy="1171.4" rx="14.5" ry="12.6" fill="url(#bg)" opacity="1" transform="rotate(15 1330.7 1171.4)"/>
<ellipse cx="1330.3" cy="1168.8" rx="4.6" ry="2.8" fill="#00005a" opacity="0.6" transform="rotate(33 1330.3 1168.8)"/>
<ellipse cx="1336.5" cy="1171.8" rx="4.4" ry="2.1" fill="#00005a" opacity="0.6" transform="rotate(14 1336.5 1171.8)"/>
<ellipse cx="1336.8" cy="1174.5" rx="4.4" ry="2.4" fill="#00005a" opacity="0.6" transform="rotate(72 1336.8 1174.5)"/>
<ellipse cx="1325.7" cy="1168.2" rx="2.7" ry="1.8" fill="#00005a" opacity="0.6" transform="rotate(68 1325.7 1168.2)"/>
<ellipse cx="1381.6" cy="1195.8" rx="16.0" ry="13.5" fill="url(#bg)" opacity="1" transform="rotate(0 1381.6 1195.8)"/>
<ellipse cx="1377.8" cy="1197.0" rx="5.0" ry="2.9" fill="#00005a" opacity="0.6" transform="rotate(140 1377.8 1197.0)"/>
<ellipse cx="1380.5" cy="1197.8" rx="4.9" ry="1.9" fill="#00005a" opacity="0.6" transform="rotate(46 1380.5 1197.8)"/>
<ellipse cx="1386.5" cy="1195.9" rx="3.9" ry="2.3" fill="#00005a" opacity="0.6" transform="rotate(51 1386.5 1195.9)"/>
<ellipse cx="1381.7" cy="1202.0" rx="3.1" ry="2.7" fill="#00005a" opacity="0.6" transform="rotate(36 1381.7 1202.0)"/>
<ellipse cx="1355.5" cy="1217.8" rx="14.8" ry="13.5" fill="url(#bg)" opacity="1" transform="rotate(0 1355.5 1217.8)"/>
<ellipse cx="1353.5" cy="1219.1" rx="2.7" ry="2.0" fill="#00005a" opacity="0.6" transform="rotate(59 1353.5 1219.1)"/>
<ellipse cx="1362.3" cy="1221.4" rx="4.4" ry="1.8" fill="#00005a" opacity="0.6" transform="rotate(152 1362.3 1221.4)"/>
<ellipse cx="1352.3" cy="1220.2" rx="4.7" ry="1.8" fill="#00005a" opacity="0.6" transform="rotate(158 1352.3 1220.2)"/>
<ellipse cx="1353.9" cy="1216.0" rx="4.4" ry="2.8" fill="#00005a" opacity="0.6" transform="rotate(160 1353.9 1216.0)"/>
<ellipse cx="1262.7" cy="1234.6" rx="5.1" ry="4.2" fill="url(#bg)" opacity="0.5" transform="rotate(0 1262.7 1234.6)"/>
</g>
<g filter="url(#g1)">
<ellipse cx="1261.9" cy="1125.0" rx="5.0" ry="2.8" fill="#00e600" opacity="1" transform="rotate(20 1261.9 1125.0)"/>
<ellipse cx="1266.1" cy="1127.2" rx="2.5" ry="1.4" fill="#00e600" opacity="1" transform="rotate(0 1266.1 1127.2)"/>
<ellipse cx="1300.2" cy="1141.0" rx="4.6" ry="1.8" fill="#00e600" opacity="0.9" transform="rotate(-25 1300.2 1141.0)"/>
<ellipse cx="1298.2" cy="1145.7" rx="2.8" ry="1.4" fill="#00e600" opacity="0.8" transform="rotate(0 1298.2 1145.7)"/>
<ellipse cx="1378.3" cy="1119.9" rx="4.6" ry="1.8" fill="#00e600" opacity="1" transform="rotate(-40 1378.3 1119.9)"/>
<ellipse cx="1362.6" cy="1127.5" rx="2.1" ry="1.8" fill="#00e600" opacity="1" transform="rotate(0 1362.6 1127.5)"/>
<ellipse cx="1355.5" cy="1135.1" rx="2.1" ry="1.4" fill="#00e600" opacity="1" transform="rotate(0 1355.5 1135.1)"/>
<ellipse cx="1361.4" cy="1107.0" rx="2.1" ry="1.2" fill="#00e600" opacity="0.8" transform="rotate(-30 1361.4 1107.0)"/>
<ellipse cx="1380.5" cy="1151.1" rx="5.0" ry="3.2" fill="#00e600" opacity="1" transform="rotate(-25 1380.5 1151.1)"/>
<ellipse cx="1317.6" cy="1173.9" rx="2.5" ry="5.3" fill="#00e600" opacity="1" transform="rotate(-25 1317.6 1173.9)"/>
<ellipse cx="1322.6" cy="1179.8" rx="3.5" ry="2.5" fill="#00e600" opacity="1" transform="rotate(30 1322.6 1179.8)"/>
<ellipse cx="1330.2" cy="1183.2" rx="5.3" ry="2.1" fill="#00e600" opacity="1" transform="rotate(10 1330.2 1183.2)"/>
<ellipse cx="1336.9" cy="1161.3" rx="1.8" ry="1.2" fill="#00e600" opacity="0.6" transform="rotate(0 1336.9 1161.3)"/>
<ellipse cx="1365.6" cy="1203.8" rx="2.8" ry="3.9" fill="#00e600" opacity="1" transform="rotate(-40 1365.6 1203.8)"/>
<ellipse cx="1374.0" cy="1211.0" rx="5.3" ry="1.8" fill="#00e600" opacity="1" transform="rotate(0 1374.0 1211.0)"/>
<ellipse cx="1384.2" cy="1210.5" rx="7.1" ry="1.8" fill="#00e600" opacity="1" transform="rotate(-10 1384.2 1210.5)"/>
<ellipse cx="1392.6" cy="1205.9" rx="2.1" ry="1.2" fill="#00e600" opacity="0.8" transform="rotate(0 1392.6 1205.9)"/>
<ellipse cx="1366.5" cy="1189.1" rx="1.8" ry="2.1" fill="#00e600" opacity="0.6" transform="rotate(0 1366.5 1189.1)"/>
<ellipse cx="1357.2" cy="1230.4" rx="7.1" ry="2.5" fill="#00e600" opacity="1" transform="rotate(-5 1357.2 1230.4)"/>
<ellipse cx="1365.6" cy="1223.7" rx="3.2" ry="5.3" fill="#00e600" opacity="1" transform="rotate(30 1365.6 1223.7)"/>
<ellipse cx="1347.1" cy="1232.1" rx="1.6" ry="1.4" fill="#00e600" opacity="0.8" transform="rotate(0 1347.1 1232.1)"/>
</g>
<rect x="1265.6" y="1224.1" width="23.6" height="3.4" fill="#fff"/>
</g>
<clipPath id="f31"><rect x="1417.4" y="1087.2" width="154.89999999999986" height="152.39999999999986"/></clipPath>
<g clip-path="url(#f31)">
<g filter="url(#g1)">
<ellipse cx="1420.4" cy="1125.0" rx="5.0" ry="2.8" fill="#00e600" opacity="1" transform="rotate(20 1420.4 1125.0)"/>
<ellipse cx="1424.6" cy="1127.2" rx="2.5" ry="1.4" fill="#00e600" opacity="1" transform="rotate(0 1424.6 1127.2)"/>
<ellipse cx="1458.7" cy="1141.0" rx="4.6" ry="1.8" fill="#00e600" opacity="0.9" transform="rotate(-25 1458.7 1141.0)"/>
<ellipse cx="1456.7" cy="1145.7" rx="2.8" ry="1.4" fill="#00e600" opacity="0.8" transform="rotate(0 1456.7 1145.7)"/>
<ellipse cx="1536.8" cy="1119.9" rx="4.6" ry="1.8" fill="#00e600" opacity="1" transform="rotate(-40 1536.8 1119.9)"/>
<ellipse cx="1521.1" cy="1127.5" rx="2.1" ry="1.8" fill="#00e600" opacity="1" transform="rotate(0 1521.1 1127.5)"/>
<ellipse cx="1514.0" cy="1135.1" rx="2.1" ry="1.4" fill="#00e600" opacity="1" transform="rotate(0 1514.0 1135.1)"/>
<ellipse cx="1519.9" cy="1107.0" rx="2.1" ry="1.2" fill="#00e600" opacity="0.8" transform="rotate(-30 1519.9 1107.0)"/>
<ellipse cx="1539.0" cy="1151.1" rx="5.0" ry="3.2" fill="#00e600" opacity="1" transform="rotate(-25 1539.0 1151.1)"/>
<ellipse cx="1476.1" cy="1173.9" rx="2.5" ry="5.3" fill="#00e600" opacity="1" transform="rotate(-25 1476.1 1173.9)"/>
<ellipse cx="1481.1" cy="1179.8" rx="3.5" ry="2.5" fill="#00e600" opacity="1" transform="rotate(30 1481.1 1179.8)"/>
<ellipse cx="1488.7" cy="1183.2" rx="5.3" ry="2.1" fill="#00e600" opacity="1" transform="rotate(10 1488.7 1183.2)"/>
<ellipse cx="1495.4" cy="1161.3" rx="1.8" ry="1.2" fill="#00e600" opacity="0.6" transform="rotate(0 1495.4 1161.3)"/>
<ellipse cx="1524.1" cy="1203.8" rx="2.8" ry="3.9" fill="#00e600" opacity="1" transform="rotate(-40 1524.1 1203.8)"/>
<ellipse cx="1532.5" cy="1211.0" rx="5.3" ry="1.8" fill="#00e600" opacity="1" transform="rotate(0 1532.5 1211.0)"/>
<ellipse cx="1542.7" cy="1210.5" rx="7.1" ry="1.8" fill="#00e600" opacity="1" transform="rotate(-10 1542.7 1210.5)"/>
<ellipse cx="1551.1" cy="1205.9" rx="2.1" ry="1.2" fill="#00e600" opacity="0.8" transform="rotate(0 1551.1 1205.9)"/>
<ellipse cx="1525.0" cy="1189.1" rx="1.8" ry="2.1" fill="#00e600" opacity="0.6" transform="rotate(0 1525.0 1189.1)"/>
<ellipse cx="1515.7" cy="1230.4" rx="7.1" ry="2.5" fill="#00e600" opacity="1" transform="rotate(-5 1515.7 1230.4)"/>
<ellipse cx="1524.1" cy="1223.7" rx="3.2" ry="5.3" fill="#00e600" opacity="1" transform="rotate(30 1524.1 1223.7)"/>
<ellipse cx="1505.6" cy="1232.1" rx="1.6" ry="1.4" fill="#00e600" opacity="0.8" transform="rotate(0 1505.6 1232.1)"/>
</g>
<rect x="1431.0" y="1223.1" width="23.3" height="3.4" fill="#fff"/>
</g>
<clipPath id="f32"><rect x="1577.4" y="1087.2" width="154.79999999999995" height="152.39999999999986"/></clipPath>
<g clip-path="url(#f32)">
<g filter="url(#b1)">
<ellipse cx="1680.7" cy="1115.3" rx="15.0" ry="14.5" fill="url(#bg)" opacity="1" transform="rotate(0 1680.7 1115.3)"/>
<ellipse cx="1674.9" cy="1118.0" rx="3.8" ry="3.1" fill="#00005a" opacity="0.6" transform="rotate(129 1674.9 1118.0)"/>
<ellipse cx="1674.2" cy="1112.4" rx="2.7" ry="2.7" fill="#00005a" opacity="0.6" transform="rotate(174 1674.2 1112.4)"/>
<ellipse cx="1686.6" cy="1113.7" rx="2.9" ry="1.8" fill="#00005a" opacity="0.6" transform="rotate(163 1686.6 1113.7)"/>
<ellipse cx="1678.8" cy="1117.4" rx="4.5" ry="2.6" fill="#00005a" opacity="0.6" transform="rotate(160 1678.8 1117.4)"/>
<ellipse cx="1614.1" cy="1148.6" rx="11.9" ry="12.3" fill="url(#bg)" opacity="0.45" transform="rotate(0 1614.1 1148.6)"/>
<ellipse cx="1704.6" cy="1148.6" rx="13.3" ry="12.3" fill="url(#bg)" opacity="0.75" transform="rotate(0 1704.6 1148.6)"/>
<ellipse cx="1709.4" cy="1149.1" rx="2.9" ry="1.8" fill="#00005a" opacity="0.6" transform="rotate(116 1709.4 1149.1)"/>
<ellipse cx="1706.4" cy="1143.3" rx="3.3" ry="2.1" fill="#00005a" opacity="0.6" transform="rotate(168 1706.4 1143.3)"/>
<ellipse cx="1698.7" cy="1147.7" rx="3.3" ry="2.5" fill="#00005a" opacity="0.6" transform="rotate(67 1698.7 1147.7)"/>
<ellipse cx="1705.2" cy="1154.1" rx="2.8" ry="2.3" fill="#00005a" opacity="0.6" transform="rotate(117 1705.2 1154.1)"/>
<ellipse cx="1662.8" cy="1167.4" rx="14.5" ry="15.7" fill="url(#bg)" opacity="1" transform="rotate(0 1662.8 1167.4)"/>
<ellipse cx="1658.4" cy="1167.5" rx="3.6" ry="3.0" fill="#00005a" opacity="0.6" transform="rotate(11 1658.4 1167.5)"/>
<ellipse cx="1658.4" cy="1163.1" rx="2.8" ry="2.1" fill="#00005a" opacity="0.6" transform="rotate(65 1658.4 1163.1)"/>
<ellipse cx="1659.2" cy="1161.9" rx="3.9" ry="2.1" fill="#00005a" opacity="0.6" transform="rotate(123 1659.2 1161.9)"/>
<ellipse cx="1666.2" cy="1168.9" rx="4.0" ry="3.0" fill="#00005a" opacity="0.6" transform="rotate(172 1666.2 1168.9)"/>
<ellipse cx="1634.6" cy="1186.1" rx="13.3" ry="13.7" fill="url(#bg)" opacity="0.9" transform="rotate(0 1634.6 1186.1)"/>
<ellipse cx="1628.8" cy="1186.5" rx="2.9" ry="2.3" fill="#00005a" opacity="0.6" transform="rotate(30 1628.8 1186.5)"/>
<ellipse cx="1639.5" cy="1185.9" rx="3.0" ry="1.8" fill="#00005a" opacity="0.6" transform="rotate(121 1639.5 1185.9)"/>
<ellipse cx="1639.0" cy="1186.6" rx="3.9" ry="3.0" fill="#00005a" opacity="0.6" transform="rotate(115 1639.0 1186.6)"/>
<ellipse cx="1638.7" cy="1186.0" rx="4.1" ry="2.9" fill="#00005a" opacity="0.6" transform="rotate(19 1638.7 1186.0)"/>
<ellipse cx="1620.9" cy="1215.2" rx="15.4" ry="12.8" fill="url(#bg)" opacity="1" transform="rotate(0 1620.9 1215.2)"/>
<ellipse cx="1618.2" cy="1213.9" rx="3.9" ry="2.8" fill="#00005a" opacity="0.6" transform="rotate(33 1618.2 1213.9)"/>
<ellipse cx="1616.0" cy="1212.0" rx="3.4" ry="1.7" fill="#00005a" opacity="0.6" transform="rotate(93 1616.0 1212.0)"/>
<ellipse cx="1621.9" cy="1221.6" rx="3.8" ry="1.6" fill="#00005a" opacity="0.6" transform="rotate(0 1621.9 1221.6)"/>
<ellipse cx="1627.1" cy="1213.5" rx="3.6" ry="2.5" fill="#00005a" opacity="0.6" transform="rotate(106 1627.1 1213.5)"/>
<ellipse cx="1580.8" cy="1163.6" rx="9.4" ry="8.5" fill="url(#bg)" opacity="1" transform="rotate(0 1580.8 1163.6)"/>
</g>
<g filter="url(#g1)">
<ellipse cx="1672.7" cy="1104.2" rx="3.6" ry="2.9" fill="#00e600" opacity="1" transform="rotate(0 1672.7 1104.2)"/>
<ellipse cx="1667.5" cy="1115.3" rx="2.5" ry="3.9" fill="#00e600" opacity="1" transform="rotate(0 1667.5 1115.3)"/>
<ellipse cx="1670.4" cy="1120.4" rx="2.2" ry="2.2" fill="#00e600" opacity="1" transform="rotate(0 1670.4 1120.4)"/>
<ellipse cx="1679.8" cy="1126.7" rx="7.2" ry="2.9" fill="#00e8a0" opacity="1" transform="rotate(0 1679.8 1126.7)"/>
<ellipse cx="1678.5" cy="1117.0" rx="2.9" ry="2.9" fill="#00d0c0" opacity="1" transform="rotate(0 1678.5 1117.0)"/>
<ellipse cx="1690.1" cy="1107.6" rx="1.3" ry="1.3" fill="#00c0ff" opacity="0.8" transform="rotate(0 1690.1 1107.6)"/>
<ellipse cx="1699.5" cy="1140.9" rx="2.5" ry="2.2" fill="#00e600" opacity="1" transform="rotate(0 1699.5 1140.9)"/>
<ellipse cx="1706.3" cy="1139.7" rx="3.2" ry="2.2" fill="#00e600" opacity="1" transform="rotate(0 1706.3 1139.7)"/>
<ellipse cx="1713.6" cy="1143.5" rx="2.9" ry="2.9" fill="#00e600" opacity="1" transform="rotate(0 1713.6 1143.5)"/>
<ellipse cx="1692.1" cy="1152.0" rx="1.8" ry="1.8" fill="#00e600" opacity="1" transform="rotate(0 1692.1 1152.0)"/>
<ellipse cx="1696.9" cy="1158.5" rx="1.6" ry="1.4" fill="#00e600" opacity="1" transform="rotate(0 1696.9 1158.5)"/>
<ellipse cx="1704.6" cy="1158.5" rx="1.6" ry="1.4" fill="#00e600" opacity="0.9" transform="rotate(0 1704.6 1158.5)"/>
<ellipse cx="1710.6" cy="1151.1" rx="1.4" ry="1.4" fill="#00e600" opacity="0.9" transform="rotate(0 1710.6 1151.1)"/>
<ellipse cx="1700.3" cy="1149.4" rx="1.8" ry="1.4" fill="#00e600" opacity="0.6" transform="rotate(0 1700.3 1149.4)"/>
<ellipse cx="1660.2" cy="1152.0" rx="3.9" ry="1.8" fill="#00e600" opacity="0.8" transform="rotate(-15 1660.2 1152.0)"/>
<ellipse cx="1654.2" cy="1157.1" rx="2.5" ry="1.4" fill="#00e600" opacity="0.7" transform="rotate(0 1654.2 1157.1)"/>
<ellipse cx="1649.1" cy="1161.9" rx="3.6" ry="1.8" fill="#00e600" opacity="0.7" transform="rotate(-20 1649.1 1161.9)"/>
<ellipse cx="1645.7" cy="1163.9" rx="1.4" ry="1.4" fill="#00e600" opacity="0.7" transform="rotate(0 1645.7 1163.9)"/>
<ellipse cx="1625.2" cy="1176.7" rx="2.2" ry="3.2" fill="#00e600" opacity="1" transform="rotate(0 1625.2 1176.7)"/>
<ellipse cx="1622.7" cy="1184.4" rx="2.5" ry="3.2" fill="#00e600" opacity="1" transform="rotate(0 1622.7 1184.4)"/>
<ellipse cx="1626.9" cy="1174.2" rx="1.6" ry="1.6" fill="#00e600" opacity="0.9" transform="rotate(0 1626.9 1174.2)"/>
<ellipse cx="1632.9" cy="1192.6" rx="4.7" ry="3.2" fill="#00e600" opacity="1" transform="rotate(30 1632.9 1192.6)"/>
<ellipse cx="1643.6" cy="1192.1" rx="1.4" ry="1.4" fill="#00e600" opacity="0.9" transform="rotate(0 1643.6 1192.1)"/>
<ellipse cx="1630.3" cy="1188.7" rx="1.8" ry="1.4" fill="#00e600" opacity="0.8" transform="rotate(0 1630.3 1188.7)"/>
<ellipse cx="1607.8" cy="1219.9" rx="3.9" ry="3.9" fill="#00e600" opacity="1" transform="rotate(0 1607.8 1219.9)"/>
<ellipse cx="1613.3" cy="1226.2" rx="3.9" ry="2.9" fill="#00e600" opacity="1" transform="rotate(30 1613.3 1226.2)"/>
<ellipse cx="1619.7" cy="1229.1" rx="4.3" ry="2.9" fill="#00e600" opacity="1" transform="rotate(0 1619.7 1229.1)"/>
<ellipse cx="1629.5" cy="1224.0" rx="3.9" ry="1.4" fill="#00d8c0" opacity="1" transform="rotate(-40 1629.5 1224.0)"/>
<ellipse cx="1632.9" cy="1221.1" rx="1.4" ry="1.4" fill="#00c8ff" opacity="1" transform="rotate(0 1632.9 1221.1)"/>
<ellipse cx="1620.1" cy="1145.2" rx="1.8" ry="2.5" fill="#00e600" opacity="0.3" transform="rotate(0 1620.1 1145.2)"/>
<ellipse cx="1615.0" cy="1148.6" rx="1.4" ry="1.4" fill="#00e600" opacity="0.3" transform="rotate(0 1615.0 1148.6)"/>
<ellipse cx="1579.1" cy="1156.3" rx="2.2" ry="1.4" fill="#00e600" opacity="0.5" transform="rotate(30 1579.1 1156.3)"/>
</g>
<rect x="1589.4" y="1227.4" width="23.6" height="3.4" fill="#fff"/>
</g>
<clipPath id="f33"><rect x="1736.8" y="1087.2" width="160.0" height="152.39999999999986"/></clipPath>
<g clip-path="url(#f33)">
<g filter="url(#g1)">
<ellipse cx="1835.7" cy="1104.2" rx="3.6" ry="2.9" fill="#00e600" opacity="1" transform="rotate(0 1835.7 1104.2)"/>
<ellipse cx="1830.5" cy="1115.3" rx="2.5" ry="3.9" fill="#00e600" opacity="1" transform="rotate(0 1830.5 1115.3)"/>
<ellipse cx="1833.4" cy="1120.4" rx="2.2" ry="2.2" fill="#00e600" opacity="1" transform="rotate(0 1833.4 1120.4)"/>
<ellipse cx="1842.8" cy="1126.7" rx="7.2" ry="2.9" fill="#00e600" opacity="1" transform="rotate(0 1842.8 1126.7)"/>
<ellipse cx="1841.5" cy="1117.0" rx="2.9" ry="2.9" fill="#00e600" opacity="1" transform="rotate(0 1841.5 1117.0)"/>
<ellipse cx="1853.1" cy="1107.6" rx="1.3" ry="1.3" fill="#00e600" opacity="0.8" transform="rotate(0 1853.1 1107.6)"/>
<ellipse cx="1862.5" cy="1140.9" rx="2.5" ry="2.2" fill="#00e600" opacity="1" transform="rotate(0 1862.5 1140.9)"/>
<ellipse cx="1869.3" cy="1139.7" rx="3.2" ry="2.2" fill="#00e600" opacity="1" transform="rotate(0 1869.3 1139.7)"/>
<ellipse cx="1876.6" cy="1143.5" rx="2.9" ry="2.9" fill="#00e600" opacity="1" transform="rotate(0 1876.6 1143.5)"/>
<ellipse cx="1855.1" cy="1152.0" rx="1.8" ry="1.8" fill="#00e600" opacity="1" transform="rotate(0 1855.1 1152.0)"/>
<ellipse cx="1859.9" cy="1158.5" rx="1.6" ry="1.4" fill="#00e600" opacity="1" transform="rotate(0 1859.9 1158.5)"/>
<ellipse cx="1867.6" cy="1158.5" rx="1.6" ry="1.4" fill="#00e600" opacity="0.9" transform="rotate(0 1867.6 1158.5)"/>
<ellipse cx="1873.6" cy="1151.1" rx="1.4" ry="1.4" fill="#00e600" opacity="0.9" transform="rotate(0 1873.6 1151.1)"/>
<ellipse cx="1863.3" cy="1149.4" rx="1.8" ry="1.4" fill="#00e600" opacity="0.6" transform="rotate(0 1863.3 1149.4)"/>
<ellipse cx="1823.2" cy="1152.0" rx="3.9" ry="1.8" fill="#00e600" opacity="0.8" transform="rotate(-15 1823.2 1152.0)"/>
<ellipse cx="1817.2" cy="1157.1" rx="2.5" ry="1.4" fill="#00e600" opacity="0.7" transform="rotate(0 1817.2 1157.1)"/>
<ellipse cx="1812.1" cy="1161.9" rx="3.6" ry="1.8" fill="#00e600" opacity="0.7" transform="rotate(-20 1812.1 1161.9)"/>
<ellipse cx="1808.7" cy="1163.9" rx="1.4" ry="1.4" fill="#00e600" opacity="0.7" transform="rotate(0 1808.7 1163.9)"/>
<ellipse cx="1788.2" cy="1176.7" rx="2.2" ry="3.2" fill="#00e600" opacity="1" transform="rotate(0 1788.2 1176.7)"/>
<ellipse cx="1785.7" cy="1184.4" rx="2.5" ry="3.2" fill="#00e600" opacity="1" transform="rotate(0 1785.7 1184.4)"/>
<ellipse cx="1789.9" cy="1174.2" rx="1.6" ry="1.6" fill="#00e600" opacity="0.9" transform="rotate(0 1789.9 1174.2)"/>
<ellipse cx="1795.9" cy="1192.6" rx="4.7" ry="3.2" fill="#00e600" opacity="1" transform="rotate(30 1795.9 1192.6)"/>
<ellipse cx="1806.6" cy="1192.1" rx="1.4" ry="1.4" fill="#00e600" opacity="0.9" transform="rotate(0 1806.6 1192.1)"/>
<ellipse cx="1793.3" cy="1188.7" rx="1.8" ry="1.4" fill="#00e600" opacity="0.8" transform="rotate(0 1793.3 1188.7)"/>
<ellipse cx="1770.8" cy="1219.9" rx="3.9" ry="3.9" fill="#00e600" opacity="1" transform="rotate(0 1770.8 1219.9)"/>
<ellipse cx="1776.3" cy="1226.2" rx="3.9" ry="2.9" fill="#00e600" opacity="1" transform="rotate(30 1776.3 1226.2)"/>
<ellipse cx="1782.7" cy="1229.1" rx="4.3" ry="2.9" fill="#00e600" opacity="1" transform="rotate(0 1782.7 1229.1)"/>
<ellipse cx="1792.5" cy="1224.0" rx="3.9" ry="1.4" fill="#00e600" opacity="1" transform="rotate(-40 1792.5 1224.0)"/>
<ellipse cx="1795.9" cy="1221.1" rx="1.4" ry="1.4" fill="#00e600" opacity="1" transform="rotate(0 1795.9 1221.1)"/>
<ellipse cx="1783.1" cy="1145.2" rx="1.8" ry="2.5" fill="#00e600" opacity="0.3" transform="rotate(0 1783.1 1145.2)"/>
<ellipse cx="1778.0" cy="1148.6" rx="1.4" ry="1.4" fill="#00e600" opacity="0.3" transform="rotate(0 1778.0 1148.6)"/>
<ellipse cx="1742.1" cy="1156.3" rx="2.2" ry="1.4" fill="#00e600" opacity="0.5" transform="rotate(30 1742.1 1156.3)"/>
</g>
<rect x="1749.0" y="1227.4" width="23.6" height="3.4" fill="#fff"/>
</g>
<line x1="1267.8" y1="1270.4" x2="1335.0" y2="1270.4" stroke="#0070c0" stroke-width="9.5"/>
<text x="1351.0" y="1279.5" font-size="28.6">Hoechest</text>
<line x1="1583.0" y1="1270.4" x2="1645.4" y2="1270.4" stroke="#00b050" stroke-width="9.5"/>
<text x="1665.4" y="1277.6" font-size="28.7">Mitotraker Green</text>
</svg>
</body></html>
